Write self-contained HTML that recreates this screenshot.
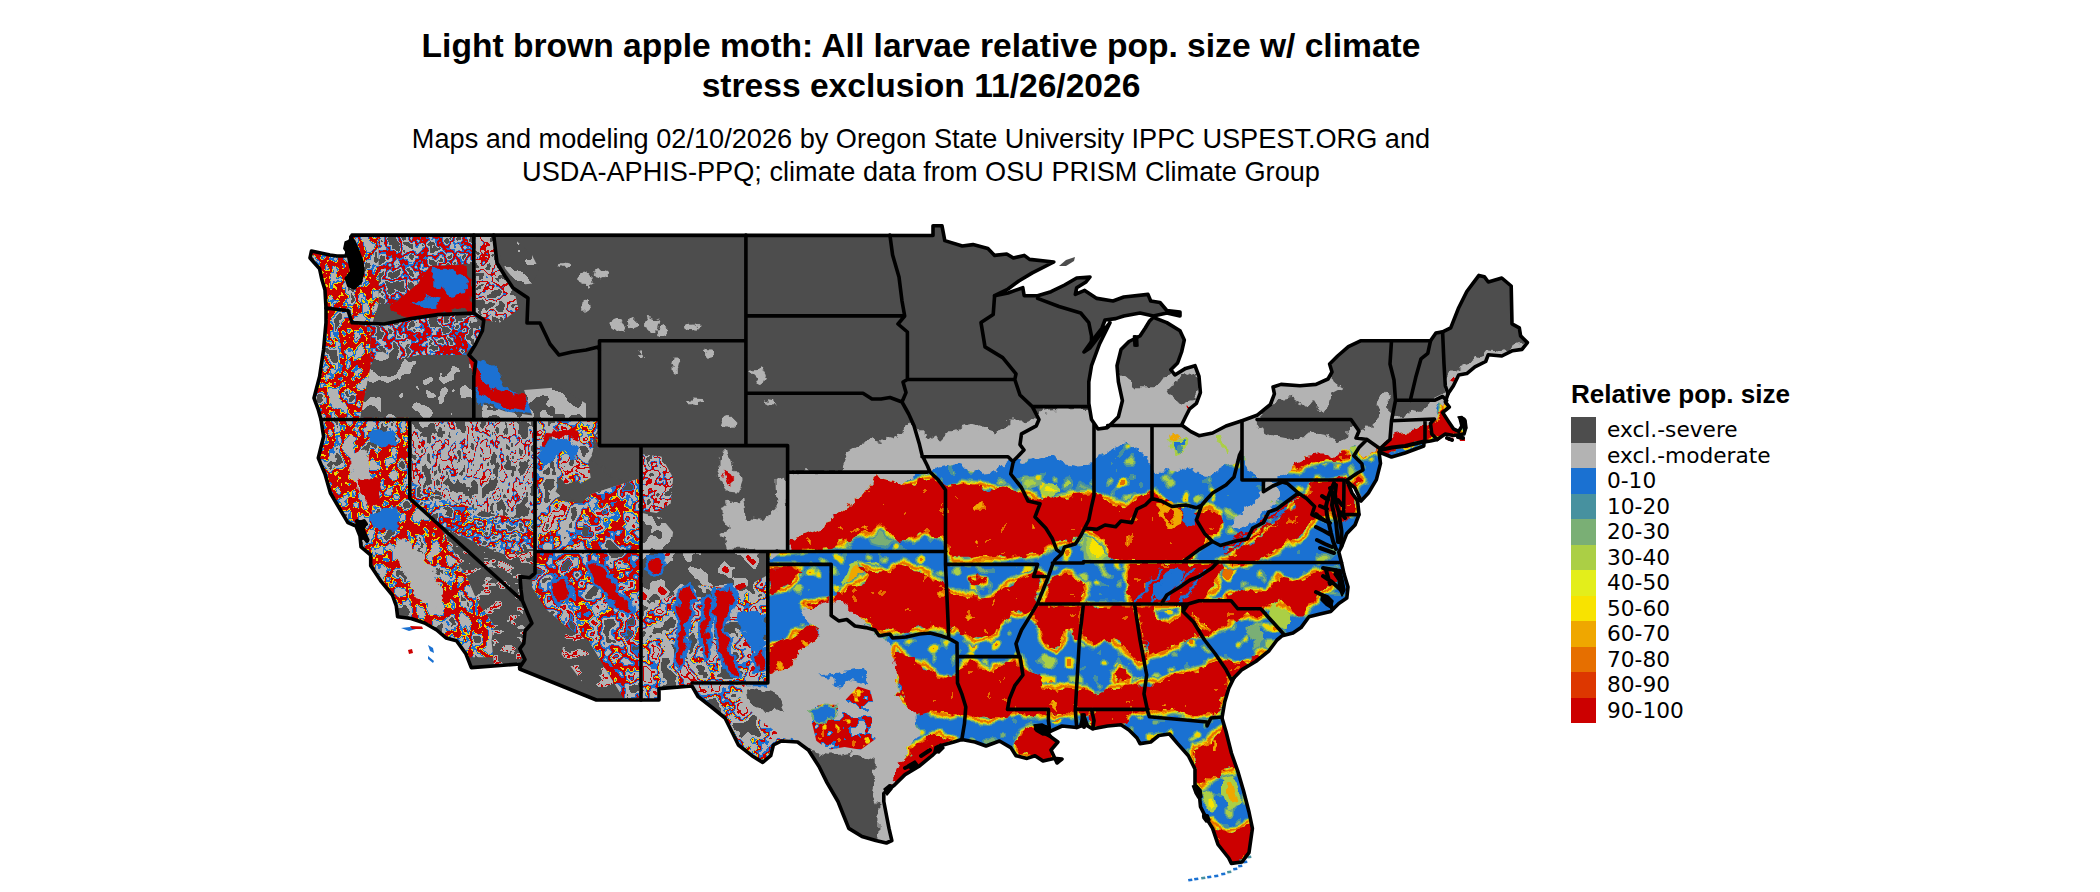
<!DOCTYPE html>
<html><head><meta charset="utf-8"><title>Light brown apple moth</title>
<style>
html,body{margin:0;padding:0;background:#fff;}
body{width:2100px;height:892px;position:relative;overflow:hidden;font-family:"Liberation Sans",sans-serif;color:#000;}
.t{position:absolute;left:0;width:1842px;text-align:center;white-space:nowrap;}
#title{top:25.5px;font-weight:bold;font-size:33.6px;line-height:40.2px;}
#sub{top:123px;font-size:27.15px;line-height:32.9px;}
#lt{position:absolute;left:1571px;top:379px;font-weight:bold;font-size:26.1px;line-height:30px;white-space:nowrap;}
.ll{position:absolute;left:1607px;font-family:"DejaVu Sans",sans-serif;font-size:21.7px;line-height:25.5px;white-space:nowrap;}
.sw{position:absolute;left:1571px;width:25px;height:25.7px;}
svg{position:absolute;left:0;top:0;}
</style></head><body>
<div class="t" id="title">Light brown apple moth: All larvae relative pop. size w/ climate<br>stress exclusion 11/26/2026</div>
<div class="t" id="sub">Maps and modeling 02/10/2026 by Oregon State University IPPC USPEST.ORG and<br>USDA-APHIS-PPQ; climate data from OSU PRISM Climate Group</div>
<div id="lt">Relative pop. size</div>
<div class="sw" style="top:417.00px;background:#4D4D4D"></div><div class="ll" style="top:417.00px">excl.-severe</div>
<div class="sw" style="top:442.50px;background:#B3B3B3"></div><div class="ll" style="top:442.50px">excl.-moderate</div>
<div class="sw" style="top:468.00px;background:#1A71D2"></div><div class="ll" style="top:468.00px">0-10</div>
<div class="sw" style="top:493.50px;background:#47919F"></div><div class="ll" style="top:493.50px">10-20</div>
<div class="sw" style="top:519.00px;background:#7AAF75"></div><div class="ll" style="top:519.00px">20-30</div>
<div class="sw" style="top:544.50px;background:#ABCF45"></div><div class="ll" style="top:544.50px">30-40</div>
<div class="sw" style="top:570.00px;background:#E3EE1B"></div><div class="ll" style="top:570.00px">40-50</div>
<div class="sw" style="top:595.50px;background:#F8E300"></div><div class="ll" style="top:595.50px">50-60</div>
<div class="sw" style="top:621.00px;background:#EFA700"></div><div class="ll" style="top:621.00px">60-70</div>
<div class="sw" style="top:646.50px;background:#E66F00"></div><div class="ll" style="top:646.50px">70-80</div>
<div class="sw" style="top:672.00px;background:#DD3700"></div><div class="ll" style="top:672.00px">80-90</div>
<div class="sw" style="top:697.50px;background:#CC0000"></div><div class="ll" style="top:697.50px">90-100</div>
<svg width="2100" height="892" viewBox="0 0 2100 892">
<defs><clipPath id="us"><path d="M933.0,235.5 L933.0,225.8 L942.0,225.8 L944.8,240.6 L962.3,246.0 L973.0,244.6 L987.9,248.6 L994.6,255.4 L1006.7,254.0 L1013.4,258.0 L1024.2,255.4 L1029.6,259.4 L1053.8,262.0 L1032.3,272.9 L1018.8,281.0 L1008.0,289.0 L994.6,295.7 L1008.0,293.0 L1022.8,287.7 L1024.2,295.7 L1037.6,295.7 L1051.0,291.7 L1064.6,285.0 L1076.7,278.0 L1090.0,277.0 L1086.0,282.0 L1076.7,287.7 L1075.3,294.4 L1084.7,290.4 L1096.8,298.4 L1113.0,301.0 L1123.8,297.0 L1148.0,294.4 L1150.7,301.0 L1160.0,302.5 L1166.8,310.5 L1180.0,312.0 L1180.0,316.0 L1166.8,313.0 L1153.4,316.0 L1140.0,313.0 L1123.8,316.0 L1115.7,318.6 L1105.0,320.0 L1102.0,328.0 L1091.5,341.5 L1084.0,352.0 L1090.0,348.0 L1100.0,335.0 L1110.0,322.6 L1099.5,344.0 L1091.5,365.7 L1088.8,381.9 L1088.8,403.4 L1091.5,419.5 L1098.0,429.0 L1107.6,427.6 L1118.4,416.8 L1122.4,400.7 L1118.4,381.9 L1117.0,365.7 L1121.0,349.6 L1129.0,341.5 L1140.0,336.0 L1145.3,328.0 L1149.3,321.3 L1153.4,317.3 L1166.8,322.6 L1180.0,330.7 L1184.3,340.0 L1181.6,352.0 L1177.6,363.0 L1170.8,369.7 L1174.9,375.0 L1185.6,368.4 L1195.0,365.7 L1199.0,376.5 L1200.4,392.6 L1196.4,403.4 L1189.7,408.8 L1185.6,416.8 L1181.6,425.0 L1191.0,431.6 L1199.0,435.7 L1212.6,433.0 L1226.0,426.0 L1242.0,420.7 L1257.0,415.3 L1270.4,404.5 L1274.4,393.8 L1273.0,387.0 L1281.0,384.4 L1300.0,385.7 L1316.0,384.4 L1328.0,379.0 L1332.0,372.0 L1329.6,364.0 L1337.6,356.0 L1348.4,346.7 L1360.5,340.8 L1430.5,340.8 L1435.9,333.0 L1442.6,331.9 L1450.7,327.8 L1458.7,307.7 L1466.8,291.5 L1478.9,275.4 L1484.3,276.7 L1488.3,282.0 L1501.8,278.0 L1511.2,286.0 L1512.0,323.8 L1519.3,327.8 L1520.6,335.9 L1527.4,342.6 L1522.0,349.4 L1512.6,350.7 L1501.8,356.0 L1488.3,354.7 L1485.7,361.5 L1474.9,366.9 L1466.8,373.6 L1458.7,375.0 L1453.4,385.7 L1448.0,393.8 L1445.3,401.8 L1449.3,407.0 L1442.6,412.6 L1448.0,420.7 L1453.4,428.8 L1458.7,431.4 L1462.0,426.0 L1460.0,418.0 L1464.0,419.3 L1465.5,428.8 L1464.0,434.0 L1453.4,435.5 L1445.3,434.0 L1437.2,439.5 L1430.5,440.9 L1424.0,442.0 L1423.8,446.0 L1405.0,453.0 L1391.5,457.0 L1379.0,452.0 L1380.5,463.4 L1376.4,479.6 L1368.4,493.0 L1361.0,501.0 L1355.0,488.0 L1347.0,481.0 L1352.0,493.0 L1357.6,501.0 L1359.0,514.6 L1355.0,525.0 L1346.8,533.4 L1341.5,546.9 L1338.8,552.0 L1341.5,562.5 L1344.0,573.8 L1348.0,587.0 L1346.8,598.0 L1338.8,603.4 L1330.7,611.5 L1320.0,614.0 L1309.0,616.8 L1301.0,627.6 L1293.0,633.0 L1282.3,635.7 L1277.0,640.0 L1269.0,650.8 L1255.7,661.5 L1242.0,669.6 L1234.0,677.7 L1228.7,688.4 L1224.7,702.0 L1222.0,718.0 L1226.0,731.5 L1231.4,753.0 L1238.0,771.9 L1243.5,790.7 L1249.0,812.0 L1252.4,828.4 L1249.0,852.6 L1242.0,862.0 L1231.4,863.4 L1228.7,858.0 L1218.0,844.5 L1212.6,828.4 L1205.9,817.6 L1200.5,806.8 L1199.0,790.7 L1195.0,785.0 L1195.0,769.0 L1188.4,755.7 L1177.6,743.6 L1169.5,734.0 L1158.8,735.5 L1150.7,742.0 L1140.0,743.6 L1137.0,738.0 L1129.0,730.0 L1121.0,724.8 L1107.6,726.0 L1092.8,728.8 L1087.5,726.0 L1083.4,715.0 L1080.7,726.0 L1076.7,727.5 L1062.0,726.0 L1049.8,731.5 L1044.0,731.0 L1051.0,737.0 L1057.9,742.0 L1051.0,750.0 L1057.0,763.0 L1062.0,759.0 L1053.8,758.4 L1043.0,761.0 L1035.0,755.7 L1027.0,758.4 L1016.0,755.7 L1010.8,747.6 L999.5,741.0 L986.0,746.0 L975.0,742.0 L961.8,739.6 L953.7,742.0 L943.0,745.0 L932.0,755.7 L918.7,766.5 L905.0,774.6 L894.5,785.0 L883.8,793.4 L883.8,801.5 L886.4,815.0 L889.0,828.4 L891.8,840.5 L886.4,843.0 L875.7,840.5 L862.0,836.5 L848.8,828.4 L843.4,815.0 L838.0,801.5 L827.0,782.6 L819.0,766.5 L808.4,750.0 L797.6,742.0 L781.5,741.0 L773.4,745.0 L770.7,755.7 L762.7,762.4 L751.9,755.7 L738.4,745.0 L733.0,734.0 L725.0,718.0 L711.5,707.0 L698.0,696.5 L692.0,686.0 L659.0,688.6 L659.0,700.0 L596.4,700.0 L519.7,669.0 L519.7,664.0 L471.3,667.6 L466.0,654.0 L456.5,640.7 L446.0,638.0 L436.7,630.0 L424.6,623.0 L411.0,618.5 L397.6,616.8 L396.3,606.0 L392.3,595.0 L381.5,581.9 L370.7,565.7 L370.7,555.0 L361.0,546.9 L360.0,536.0 L356.0,526.0 L347.9,522.6 L339.8,509.0 L330.4,493.0 L325.0,474.0 L318.3,458.0 L323.6,436.5 L321.0,419.5 L318.0,408.8 L314.0,398.0 L319.6,376.5 L323.6,349.5 L326.0,322.6 L326.0,308.0 L325.0,290.0 L322.0,280.0 L319.6,268.8 L310.0,258.0 L311.5,251.0 L330.0,255.0 L337.0,256.0 L346.0,256.0 L349.0,244.0 L352.0,235.0Z"/></clipPath>
<filter id="rag" filterUnits="userSpaceOnUse" x="290" y="210" width="1260" height="680"><feTurbulence type="fractalNoise" baseFrequency="0.085" numOctaves="3" seed="3"/><feDisplacementMap in="SourceGraphic" scale="13" xChannelSelector="R" yChannelSelector="G"/></filter>
<filter id="rag2" filterUnits="userSpaceOnUse" x="290" y="210" width="1260" height="680"><feTurbulence type="fractalNoise" baseFrequency="0.045" numOctaves="3" seed="8"/><feDisplacementMap in="SourceGraphic" scale="16" xChannelSelector="R" yChannelSelector="G"/></filter>
<filter id="mott" filterUnits="userSpaceOnUse" x="290" y="210" width="1260" height="680" color-interpolation-filters="sRGB"><feTurbulence type="fractalNoise" baseFrequency="0.055" numOctaves="2" seed="31"/><feColorMatrix type="matrix" values="1 0 0 0 0 1 0 0 0 0 1 0 0 0 0 1 0 0 0 0"/><feComponentTransfer><feFuncR type="discrete" tableValues="0.671 0.671 0.671 0.671 0.671 0.671 0.671 0.671 0.671 0.671 0.671 0.671 0.671 0.671 0.478 0.478 0.278 0.278 0.000 0.000 0.000 0.000 0.000 0.000 0.000 0.000 0.000 0.000 0.000 0.000 0.000 0.000 0.278 0.278 0.478 0.671 0.949 0.949 0.949 0.902 0.902 0.902 0.902 0.902 0.902 0.902 0.902 0.902 0.902 0.902"/><feFuncG type="discrete" tableValues="0.812 0.812 0.812 0.812 0.812 0.812 0.812 0.812 0.812 0.812 0.812 0.812 0.812 0.812 0.686 0.686 0.569 0.569 0.000 0.000 0.000 0.000 0.000 0.000 0.000 0.000 0.000 0.000 0.000 0.000 0.000 0.000 0.569 0.569 0.686 0.812 0.835 0.835 0.835 0.435 0.435 0.435 0.435 0.435 0.435 0.435 0.435 0.435 0.435 0.435"/><feFuncB type="discrete" tableValues="0.271 0.271 0.271 0.271 0.271 0.271 0.271 0.271 0.271 0.271 0.271 0.271 0.271 0.271 0.459 0.459 0.624 0.624 0.000 0.000 0.000 0.000 0.000 0.000 0.000 0.000 0.000 0.000 0.000 0.000 0.000 0.000 0.624 0.624 0.459 0.271 0.000 0.000 0.000 0.000 0.000 0.000 0.000 0.000 0.000 0.000 0.000 0.000 0.000 0.000"/><feFuncA type="discrete" tableValues="1.000 1.000 1.000 1.000 1.000 1.000 1.000 1.000 1.000 1.000 1.000 1.000 1.000 1.000 1.000 1.000 1.000 1.000 0.000 0.000 0.000 0.000 0.000 0.000 0.000 0.000 0.000 0.000 0.000 0.000 0.000 0.000 1.000 1.000 1.000 1.000 1.000 1.000 1.000 1.000 1.000 1.000 1.000 1.000 1.000 1.000 1.000 1.000 1.000 1.000"/></feComponentTransfer><feComposite in2="SourceGraphic" operator="in"/></filter>
<filter id="mott2" filterUnits="userSpaceOnUse" x="290" y="210" width="1260" height="680" color-interpolation-filters="sRGB"><feTurbulence type="fractalNoise" baseFrequency="0.08" numOctaves="2" seed="33"/><feColorMatrix type="matrix" values="1 0 0 0 0 1 0 0 0 0 1 0 0 0 0 1 0 0 0 0"/><feComponentTransfer><feFuncR type="discrete" tableValues="0.000 0.000 0.000 0.000 0.000 0.000 0.000 0.000 0.000 0.000 0.000 0.000 0.000 0.000 0.000 0.000 0.000 0.000 0.000 0.000 0.000 0.000 0.000 0.000 0.000 0.000 0.000 0.000 0.000 0.000 0.000 0.000 0.000 0.000 0.000 0.000 0.000 0.902 0.902 0.902 0.937 0.937 0.937 0.937 0.937 0.937 0.937 0.937 0.937 0.937"/><feFuncG type="discrete" tableValues="0.000 0.000 0.000 0.000 0.000 0.000 0.000 0.000 0.000 0.000 0.000 0.000 0.000 0.000 0.000 0.000 0.000 0.000 0.000 0.000 0.000 0.000 0.000 0.000 0.000 0.000 0.000 0.000 0.000 0.000 0.000 0.000 0.000 0.000 0.000 0.000 0.000 0.435 0.435 0.435 0.655 0.655 0.655 0.655 0.655 0.655 0.655 0.655 0.655 0.655"/><feFuncB type="discrete" tableValues="0.000 0.000 0.000 0.000 0.000 0.000 0.000 0.000 0.000 0.000 0.000 0.000 0.000 0.000 0.000 0.000 0.000 0.000 0.000 0.000 0.000 0.000 0.000 0.000 0.000 0.000 0.000 0.000 0.000 0.000 0.000 0.000 0.000 0.000 0.000 0.000 0.000 0.000 0.000 0.000 0.000 0.000 0.000 0.000 0.000 0.000 0.000 0.000 0.000 0.000"/><feFuncA type="discrete" tableValues="0.000 0.000 0.000 0.000 0.000 0.000 0.000 0.000 0.000 0.000 0.000 0.000 0.000 0.000 0.000 0.000 0.000 0.000 0.000 0.000 0.000 0.000 0.000 0.000 0.000 0.000 0.000 0.000 0.000 0.000 0.000 0.000 0.000 0.000 0.000 0.000 0.000 1.000 1.000 1.000 1.000 1.000 1.000 1.000 1.000 1.000 1.000 1.000 1.000 1.000"/></feComponentTransfer><feComposite in2="SourceGraphic" operator="in"/></filter>
<filter id="coast" filterUnits="userSpaceOnUse" x="290" y="210" width="1260" height="680" color-interpolation-filters="sRGB"><feTurbulence type="fractalNoise" baseFrequency="0.07 0.055" numOctaves="3" seed="2"/><feColorMatrix type="matrix" values="1 0 0 0 0 1 0 0 0 0 1 0 0 0 0 1 0 0 0 0"/><feComponentTransfer><feFuncR type="discrete" tableValues="0.702 0.702 0.702 0.702 0.702 0.702 0.702 0.702 0.702 0.702 0.702 0.702 0.702 0.702 0.702 0.702 0.702 0.702 0.102 0.102 0.949 0.800 0.800 0.800 0.800 0.800 0.800 0.800 0.949 0.102 0.102 0.702 0.702 0.702 0.702 0.302 0.302 0.302 0.302 0.302 0.302 0.302 0.302 0.302 0.302 0.302 0.302 0.302 0.302 0.302"/><feFuncG type="discrete" tableValues="0.702 0.702 0.702 0.702 0.702 0.702 0.702 0.702 0.702 0.702 0.702 0.702 0.702 0.702 0.702 0.702 0.702 0.702 0.443 0.443 0.835 0.000 0.000 0.000 0.000 0.000 0.000 0.000 0.835 0.443 0.443 0.702 0.702 0.702 0.702 0.302 0.302 0.302 0.302 0.302 0.302 0.302 0.302 0.302 0.302 0.302 0.302 0.302 0.302 0.302"/><feFuncB type="discrete" tableValues="0.702 0.702 0.702 0.702 0.702 0.702 0.702 0.702 0.702 0.702 0.702 0.702 0.702 0.702 0.702 0.702 0.702 0.702 0.824 0.824 0.000 0.000 0.000 0.000 0.000 0.000 0.000 0.000 0.000 0.824 0.824 0.702 0.702 0.702 0.702 0.302 0.302 0.302 0.302 0.302 0.302 0.302 0.302 0.302 0.302 0.302 0.302 0.302 0.302 0.302"/><feFuncA type="discrete" tableValues="1.000 1.000 1.000 1.000 1.000 1.000 1.000 1.000 1.000 1.000 1.000 1.000 1.000 1.000 1.000 1.000 1.000 1.000 1.000 1.000 1.000 1.000 1.000 1.000 1.000 1.000 1.000 1.000 1.000 1.000 1.000 1.000 1.000 1.000 1.000 1.000 1.000 1.000 1.000 1.000 1.000 1.000 1.000 1.000 1.000 1.000 1.000 1.000 1.000 1.000"/></feComponentTransfer><feComposite in2="SourceGraphic" operator="in"/></filter>
<filter id="casc" filterUnits="userSpaceOnUse" x="290" y="210" width="1260" height="680" color-interpolation-filters="sRGB"><feTurbulence type="fractalNoise" baseFrequency="0.075" numOctaves="3" seed="4"/><feColorMatrix type="matrix" values="1 0 0 0 0 1 0 0 0 0 1 0 0 0 0 1 0 0 0 0"/><feComponentTransfer><feFuncR type="discrete" tableValues="0.302 0.302 0.302 0.302 0.302 0.302 0.302 0.302 0.302 0.302 0.302 0.302 0.302 0.302 0.302 0.302 0.302 0.302 0.302 0.702 0.702 0.702 0.102 0.102 0.800 0.800 0.800 0.800 0.800 0.102 0.102 0.702 0.702 0.702 0.702 0.302 0.302 0.302 0.302 0.302 0.302 0.302 0.302 0.302 0.302 0.302 0.302 0.302 0.302 0.302"/><feFuncG type="discrete" tableValues="0.302 0.302 0.302 0.302 0.302 0.302 0.302 0.302 0.302 0.302 0.302 0.302 0.302 0.302 0.302 0.302 0.302 0.302 0.302 0.702 0.702 0.702 0.443 0.443 0.000 0.000 0.000 0.000 0.000 0.443 0.443 0.702 0.702 0.702 0.702 0.302 0.302 0.302 0.302 0.302 0.302 0.302 0.302 0.302 0.302 0.302 0.302 0.302 0.302 0.302"/><feFuncB type="discrete" tableValues="0.302 0.302 0.302 0.302 0.302 0.302 0.302 0.302 0.302 0.302 0.302 0.302 0.302 0.302 0.302 0.302 0.302 0.302 0.302 0.702 0.702 0.702 0.824 0.824 0.000 0.000 0.000 0.000 0.000 0.824 0.824 0.702 0.702 0.702 0.702 0.302 0.302 0.302 0.302 0.302 0.302 0.302 0.302 0.302 0.302 0.302 0.302 0.302 0.302 0.302"/><feFuncA type="discrete" tableValues="1.000 1.000 1.000 1.000 1.000 1.000 1.000 1.000 1.000 1.000 1.000 1.000 1.000 1.000 1.000 1.000 1.000 1.000 1.000 1.000 1.000 1.000 1.000 1.000 1.000 1.000 1.000 1.000 1.000 1.000 1.000 1.000 1.000 1.000 1.000 1.000 1.000 1.000 1.000 1.000 1.000 1.000 1.000 1.000 1.000 1.000 1.000 1.000 1.000 1.000"/></feComponentTransfer><feComposite in2="SourceGraphic" operator="in"/></filter>
<filter id="basin" filterUnits="userSpaceOnUse" x="290" y="210" width="1260" height="680" color-interpolation-filters="sRGB"><feTurbulence type="fractalNoise" baseFrequency="0.09 0.05" numOctaves="3" seed="5"/><feColorMatrix type="matrix" values="1 0 0 0 0 1 0 0 0 0 1 0 0 0 0 1 0 0 0 0"/><feComponentTransfer><feFuncR type="discrete" tableValues="0.302 0.302 0.302 0.302 0.302 0.302 0.302 0.302 0.302 0.302 0.302 0.302 0.302 0.302 0.302 0.302 0.302 0.302 0.302 0.302 0.702 0.702 0.702 0.702 0.702 0.702 0.102 0.800 0.800 0.702 0.702 0.702 0.702 0.702 0.702 0.702 0.302 0.302 0.302 0.302 0.302 0.302 0.302 0.302 0.302 0.302 0.302 0.302 0.302 0.302"/><feFuncG type="discrete" tableValues="0.302 0.302 0.302 0.302 0.302 0.302 0.302 0.302 0.302 0.302 0.302 0.302 0.302 0.302 0.302 0.302 0.302 0.302 0.302 0.302 0.702 0.702 0.702 0.702 0.702 0.702 0.443 0.000 0.000 0.702 0.702 0.702 0.702 0.702 0.702 0.702 0.302 0.302 0.302 0.302 0.302 0.302 0.302 0.302 0.302 0.302 0.302 0.302 0.302 0.302"/><feFuncB type="discrete" tableValues="0.302 0.302 0.302 0.302 0.302 0.302 0.302 0.302 0.302 0.302 0.302 0.302 0.302 0.302 0.302 0.302 0.302 0.302 0.302 0.302 0.702 0.702 0.702 0.702 0.702 0.702 0.824 0.000 0.000 0.702 0.702 0.702 0.702 0.702 0.702 0.702 0.302 0.302 0.302 0.302 0.302 0.302 0.302 0.302 0.302 0.302 0.302 0.302 0.302 0.302"/><feFuncA type="discrete" tableValues="1.000 1.000 1.000 1.000 1.000 1.000 1.000 1.000 1.000 1.000 1.000 1.000 1.000 1.000 1.000 1.000 1.000 1.000 1.000 1.000 1.000 1.000 1.000 1.000 1.000 1.000 1.000 1.000 1.000 1.000 1.000 1.000 1.000 1.000 1.000 1.000 1.000 1.000 1.000 1.000 1.000 1.000 1.000 1.000 1.000 1.000 1.000 1.000 1.000 1.000"/></feComponentTransfer><feComposite in2="SourceGraphic" operator="in"/></filter>
<filter id="dglg" filterUnits="userSpaceOnUse" x="290" y="210" width="1260" height="680" color-interpolation-filters="sRGB"><feTurbulence type="fractalNoise" baseFrequency="0.06" numOctaves="2" seed="6"/><feColorMatrix type="matrix" values="1 0 0 0 0 1 0 0 0 0 1 0 0 0 0 1 0 0 0 0"/><feComponentTransfer><feFuncR type="discrete" tableValues="0.302 0.302 0.302 0.302 0.302 0.302 0.302 0.302 0.302 0.302 0.302 0.302 0.302 0.302 0.302 0.302 0.302 0.302 0.302 0.302 0.302 0.302 0.302 0.302 0.302 0.302 0.302 0.302 0.302 0.702 0.702 0.702 0.702 0.702 0.702 0.702 0.702 0.702 0.702 0.702 0.702 0.702 0.702 0.702 0.702 0.702 0.702 0.702 0.702 0.702"/><feFuncG type="discrete" tableValues="0.302 0.302 0.302 0.302 0.302 0.302 0.302 0.302 0.302 0.302 0.302 0.302 0.302 0.302 0.302 0.302 0.302 0.302 0.302 0.302 0.302 0.302 0.302 0.302 0.302 0.302 0.302 0.302 0.302 0.702 0.702 0.702 0.702 0.702 0.702 0.702 0.702 0.702 0.702 0.702 0.702 0.702 0.702 0.702 0.702 0.702 0.702 0.702 0.702 0.702"/><feFuncB type="discrete" tableValues="0.302 0.302 0.302 0.302 0.302 0.302 0.302 0.302 0.302 0.302 0.302 0.302 0.302 0.302 0.302 0.302 0.302 0.302 0.302 0.302 0.302 0.302 0.302 0.302 0.302 0.302 0.302 0.302 0.302 0.702 0.702 0.702 0.702 0.702 0.702 0.702 0.702 0.702 0.702 0.702 0.702 0.702 0.702 0.702 0.702 0.702 0.702 0.702 0.702 0.702"/><feFuncA type="discrete" tableValues="1.000 1.000 1.000 1.000 1.000 1.000 1.000 1.000 1.000 1.000 1.000 1.000 1.000 1.000 1.000 1.000 1.000 1.000 1.000 1.000 1.000 1.000 1.000 1.000 1.000 1.000 1.000 1.000 1.000 1.000 1.000 1.000 1.000 1.000 1.000 1.000 1.000 1.000 1.000 1.000 1.000 1.000 1.000 1.000 1.000 1.000 1.000 1.000 1.000 1.000"/></feComponentTransfer><feComposite in2="SourceGraphic" operator="in"/></filter>
<filter id="lgdg" filterUnits="userSpaceOnUse" x="290" y="210" width="1260" height="680" color-interpolation-filters="sRGB"><feTurbulence type="fractalNoise" baseFrequency="0.06" numOctaves="2" seed="8"/><feColorMatrix type="matrix" values="1 0 0 0 0 1 0 0 0 0 1 0 0 0 0 1 0 0 0 0"/><feComponentTransfer><feFuncR type="discrete" tableValues="0.702 0.702 0.702 0.702 0.702 0.702 0.702 0.702 0.702 0.702 0.702 0.702 0.702 0.702 0.702 0.702 0.702 0.702 0.702 0.702 0.702 0.702 0.702 0.702 0.702 0.702 0.702 0.302 0.302 0.302 0.302 0.302 0.302 0.302 0.302 0.302 0.302 0.302 0.302 0.302 0.302 0.302 0.302 0.302 0.302 0.302 0.302 0.302 0.302 0.302"/><feFuncG type="discrete" tableValues="0.702 0.702 0.702 0.702 0.702 0.702 0.702 0.702 0.702 0.702 0.702 0.702 0.702 0.702 0.702 0.702 0.702 0.702 0.702 0.702 0.702 0.702 0.702 0.702 0.702 0.702 0.702 0.302 0.302 0.302 0.302 0.302 0.302 0.302 0.302 0.302 0.302 0.302 0.302 0.302 0.302 0.302 0.302 0.302 0.302 0.302 0.302 0.302 0.302 0.302"/><feFuncB type="discrete" tableValues="0.702 0.702 0.702 0.702 0.702 0.702 0.702 0.702 0.702 0.702 0.702 0.702 0.702 0.702 0.702 0.702 0.702 0.702 0.702 0.702 0.702 0.702 0.702 0.702 0.702 0.702 0.702 0.302 0.302 0.302 0.302 0.302 0.302 0.302 0.302 0.302 0.302 0.302 0.302 0.302 0.302 0.302 0.302 0.302 0.302 0.302 0.302 0.302 0.302 0.302"/><feFuncA type="discrete" tableValues="1.000 1.000 1.000 1.000 1.000 1.000 1.000 1.000 1.000 1.000 1.000 1.000 1.000 1.000 1.000 1.000 1.000 1.000 1.000 1.000 1.000 1.000 1.000 1.000 1.000 1.000 1.000 1.000 1.000 1.000 1.000 1.000 1.000 1.000 1.000 1.000 1.000 1.000 1.000 1.000 1.000 1.000 1.000 1.000 1.000 1.000 1.000 1.000 1.000 1.000"/></feComponentTransfer><feComposite in2="SourceGraphic" operator="in"/></filter>
<filter id="swirl" filterUnits="userSpaceOnUse" x="290" y="210" width="1260" height="680" color-interpolation-filters="sRGB"><feTurbulence type="fractalNoise" baseFrequency="0.05" numOctaves="3" seed="9"/><feColorMatrix type="matrix" values="1 0 0 0 0 1 0 0 0 0 1 0 0 0 0 1 0 0 0 0"/><feComponentTransfer><feFuncR type="discrete" tableValues="0.302 0.302 0.302 0.302 0.302 0.302 0.302 0.302 0.302 0.302 0.302 0.302 0.302 0.302 0.302 0.302 0.702 0.702 0.702 0.702 0.702 0.702 0.102 0.102 0.800 0.800 0.949 0.102 0.702 0.702 0.702 0.702 0.800 0.800 0.702 0.702 0.702 0.702 0.302 0.302 0.302 0.302 0.302 0.302 0.302 0.302 0.302 0.302 0.302 0.302"/><feFuncG type="discrete" tableValues="0.302 0.302 0.302 0.302 0.302 0.302 0.302 0.302 0.302 0.302 0.302 0.302 0.302 0.302 0.302 0.302 0.702 0.702 0.702 0.702 0.702 0.702 0.443 0.443 0.000 0.000 0.835 0.443 0.702 0.702 0.702 0.702 0.000 0.000 0.702 0.702 0.702 0.702 0.302 0.302 0.302 0.302 0.302 0.302 0.302 0.302 0.302 0.302 0.302 0.302"/><feFuncB type="discrete" tableValues="0.302 0.302 0.302 0.302 0.302 0.302 0.302 0.302 0.302 0.302 0.302 0.302 0.302 0.302 0.302 0.302 0.702 0.702 0.702 0.702 0.702 0.702 0.824 0.824 0.000 0.000 0.000 0.824 0.702 0.702 0.702 0.702 0.000 0.000 0.702 0.702 0.702 0.702 0.302 0.302 0.302 0.302 0.302 0.302 0.302 0.302 0.302 0.302 0.302 0.302"/><feFuncA type="discrete" tableValues="1.000 1.000 1.000 1.000 1.000 1.000 1.000 1.000 1.000 1.000 1.000 1.000 1.000 1.000 1.000 1.000 1.000 1.000 1.000 1.000 1.000 1.000 1.000 1.000 1.000 1.000 1.000 1.000 1.000 1.000 1.000 1.000 1.000 1.000 1.000 1.000 1.000 1.000 1.000 1.000 1.000 1.000 1.000 1.000 1.000 1.000 1.000 1.000 1.000 1.000"/></feComponentTransfer><feComposite in2="SourceGraphic" operator="in"/></filter>
<filter id="redblue" filterUnits="userSpaceOnUse" x="290" y="210" width="1260" height="680" color-interpolation-filters="sRGB"><feTurbulence type="fractalNoise" baseFrequency="0.075" numOctaves="3" seed="11"/><feColorMatrix type="matrix" values="1 0 0 0 0 1 0 0 0 0 1 0 0 0 0 1 0 0 0 0"/><feComponentTransfer><feFuncR type="discrete" tableValues="0.302 0.302 0.302 0.302 0.302 0.302 0.302 0.302 0.302 0.302 0.302 0.302 0.302 0.302 0.302 0.302 0.702 0.702 0.702 0.702 0.102 0.102 0.102 0.949 0.800 0.800 0.800 0.800 0.102 0.102 0.102 0.702 0.702 0.702 0.702 0.302 0.302 0.302 0.302 0.302 0.302 0.302 0.302 0.302 0.302 0.302 0.302 0.302 0.302 0.302"/><feFuncG type="discrete" tableValues="0.302 0.302 0.302 0.302 0.302 0.302 0.302 0.302 0.302 0.302 0.302 0.302 0.302 0.302 0.302 0.302 0.702 0.702 0.702 0.702 0.443 0.443 0.443 0.835 0.000 0.000 0.000 0.000 0.443 0.443 0.443 0.702 0.702 0.702 0.702 0.302 0.302 0.302 0.302 0.302 0.302 0.302 0.302 0.302 0.302 0.302 0.302 0.302 0.302 0.302"/><feFuncB type="discrete" tableValues="0.302 0.302 0.302 0.302 0.302 0.302 0.302 0.302 0.302 0.302 0.302 0.302 0.302 0.302 0.302 0.302 0.702 0.702 0.702 0.702 0.824 0.824 0.824 0.000 0.000 0.000 0.000 0.000 0.824 0.824 0.824 0.702 0.702 0.702 0.702 0.302 0.302 0.302 0.302 0.302 0.302 0.302 0.302 0.302 0.302 0.302 0.302 0.302 0.302 0.302"/><feFuncA type="discrete" tableValues="1.000 1.000 1.000 1.000 1.000 1.000 1.000 1.000 1.000 1.000 1.000 1.000 1.000 1.000 1.000 1.000 1.000 1.000 1.000 1.000 1.000 1.000 1.000 1.000 1.000 1.000 1.000 1.000 1.000 1.000 1.000 1.000 1.000 1.000 1.000 1.000 1.000 1.000 1.000 1.000 1.000 1.000 1.000 1.000 1.000 1.000 1.000 1.000 1.000 1.000"/></feComponentTransfer><feComposite in2="SourceGraphic" operator="in"/></filter>
<filter id="lgred" filterUnits="userSpaceOnUse" x="290" y="210" width="1260" height="680" color-interpolation-filters="sRGB"><feTurbulence type="fractalNoise" baseFrequency="0.07" numOctaves="3" seed="12"/><feColorMatrix type="matrix" values="1 0 0 0 0 1 0 0 0 0 1 0 0 0 0 1 0 0 0 0"/><feComponentTransfer><feFuncR type="discrete" tableValues="0.302 0.302 0.302 0.302 0.302 0.302 0.302 0.302 0.302 0.302 0.302 0.302 0.302 0.302 0.302 0.302 0.302 0.302 0.702 0.702 0.702 0.702 0.702 0.702 0.702 0.800 0.800 0.800 0.102 0.702 0.702 0.702 0.702 0.702 0.302 0.302 0.302 0.302 0.302 0.302 0.302 0.302 0.302 0.302 0.302 0.302 0.302 0.302 0.302 0.302"/><feFuncG type="discrete" tableValues="0.302 0.302 0.302 0.302 0.302 0.302 0.302 0.302 0.302 0.302 0.302 0.302 0.302 0.302 0.302 0.302 0.302 0.302 0.702 0.702 0.702 0.702 0.702 0.702 0.702 0.000 0.000 0.000 0.443 0.702 0.702 0.702 0.702 0.702 0.302 0.302 0.302 0.302 0.302 0.302 0.302 0.302 0.302 0.302 0.302 0.302 0.302 0.302 0.302 0.302"/><feFuncB type="discrete" tableValues="0.302 0.302 0.302 0.302 0.302 0.302 0.302 0.302 0.302 0.302 0.302 0.302 0.302 0.302 0.302 0.302 0.302 0.302 0.702 0.702 0.702 0.702 0.702 0.702 0.702 0.000 0.000 0.000 0.824 0.702 0.702 0.702 0.702 0.702 0.302 0.302 0.302 0.302 0.302 0.302 0.302 0.302 0.302 0.302 0.302 0.302 0.302 0.302 0.302 0.302"/><feFuncA type="discrete" tableValues="1.000 1.000 1.000 1.000 1.000 1.000 1.000 1.000 1.000 1.000 1.000 1.000 1.000 1.000 1.000 1.000 1.000 1.000 1.000 1.000 1.000 1.000 1.000 1.000 1.000 1.000 1.000 1.000 1.000 1.000 1.000 1.000 1.000 1.000 1.000 1.000 1.000 1.000 1.000 1.000 1.000 1.000 1.000 1.000 1.000 1.000 1.000 1.000 1.000 1.000"/></feComponentTransfer><feComposite in2="SourceGraphic" operator="in"/></filter>
<filter id="dgs" filterUnits="userSpaceOnUse" x="290" y="210" width="1260" height="680" color-interpolation-filters="sRGB"><feTurbulence type="fractalNoise" baseFrequency="0.06 0.1" numOctaves="3" seed="14"/><feColorMatrix type="matrix" values="1 0 0 0 0 1 0 0 0 0 1 0 0 0 0 1 0 0 0 0"/><feComponentTransfer><feFuncR type="discrete" tableValues="0.302 0.302 0.302 0.302 0.302 0.302 0.302 0.302 0.302 0.302 0.302 0.302 0.302 0.302 0.302 0.302 0.302 0.302 0.302 0.302 0.302 0.302 0.302 0.302 0.302 0.302 0.302 0.302 0.302 0.702 0.702 0.702 0.800 0.800 0.702 0.702 0.702 0.702 0.702 0.702 0.702 0.702 0.702 0.702 0.702 0.702 0.702 0.702 0.702 0.702"/><feFuncG type="discrete" tableValues="0.302 0.302 0.302 0.302 0.302 0.302 0.302 0.302 0.302 0.302 0.302 0.302 0.302 0.302 0.302 0.302 0.302 0.302 0.302 0.302 0.302 0.302 0.302 0.302 0.302 0.302 0.302 0.302 0.302 0.702 0.702 0.702 0.000 0.000 0.702 0.702 0.702 0.702 0.702 0.702 0.702 0.702 0.702 0.702 0.702 0.702 0.702 0.702 0.702 0.702"/><feFuncB type="discrete" tableValues="0.302 0.302 0.302 0.302 0.302 0.302 0.302 0.302 0.302 0.302 0.302 0.302 0.302 0.302 0.302 0.302 0.302 0.302 0.302 0.302 0.302 0.302 0.302 0.302 0.302 0.302 0.302 0.302 0.302 0.702 0.702 0.702 0.000 0.000 0.702 0.702 0.702 0.702 0.702 0.702 0.702 0.702 0.702 0.702 0.702 0.702 0.702 0.702 0.702 0.702"/><feFuncA type="discrete" tableValues="1.000 1.000 1.000 1.000 1.000 1.000 1.000 1.000 1.000 1.000 1.000 1.000 1.000 1.000 1.000 1.000 1.000 1.000 1.000 1.000 1.000 1.000 1.000 1.000 1.000 1.000 1.000 1.000 1.000 1.000 1.000 1.000 1.000 1.000 1.000 1.000 1.000 1.000 1.000 1.000 1.000 1.000 1.000 1.000 1.000 1.000 1.000 1.000 1.000 1.000"/></feComponentTransfer><feComposite in2="SourceGraphic" operator="in"/></filter>
<filter id="swirl2" filterUnits="userSpaceOnUse" x="290" y="210" width="1260" height="680" color-interpolation-filters="sRGB"><feTurbulence type="fractalNoise" baseFrequency="0.05" numOctaves="3" seed="19"/><feColorMatrix type="matrix" values="1 0 0 0 0 1 0 0 0 0 1 0 0 0 0 1 0 0 0 0"/><feComponentTransfer><feFuncR type="discrete" tableValues="0.302 0.302 0.302 0.302 0.302 0.302 0.302 0.302 0.302 0.302 0.302 0.302 0.302 0.302 0.302 0.302 0.702 0.702 0.702 0.702 0.102 0.102 0.800 0.800 0.800 0.800 0.949 0.102 0.102 0.702 0.702 0.702 0.800 0.800 0.102 0.102 0.302 0.302 0.302 0.302 0.302 0.302 0.302 0.302 0.302 0.302 0.302 0.302 0.302 0.302"/><feFuncG type="discrete" tableValues="0.302 0.302 0.302 0.302 0.302 0.302 0.302 0.302 0.302 0.302 0.302 0.302 0.302 0.302 0.302 0.302 0.702 0.702 0.702 0.702 0.443 0.443 0.000 0.000 0.000 0.000 0.835 0.443 0.443 0.702 0.702 0.702 0.000 0.000 0.443 0.443 0.302 0.302 0.302 0.302 0.302 0.302 0.302 0.302 0.302 0.302 0.302 0.302 0.302 0.302"/><feFuncB type="discrete" tableValues="0.302 0.302 0.302 0.302 0.302 0.302 0.302 0.302 0.302 0.302 0.302 0.302 0.302 0.302 0.302 0.302 0.702 0.702 0.702 0.702 0.824 0.824 0.000 0.000 0.000 0.000 0.000 0.824 0.824 0.702 0.702 0.702 0.000 0.000 0.824 0.824 0.302 0.302 0.302 0.302 0.302 0.302 0.302 0.302 0.302 0.302 0.302 0.302 0.302 0.302"/><feFuncA type="discrete" tableValues="1.000 1.000 1.000 1.000 1.000 1.000 1.000 1.000 1.000 1.000 1.000 1.000 1.000 1.000 1.000 1.000 1.000 1.000 1.000 1.000 1.000 1.000 1.000 1.000 1.000 1.000 1.000 1.000 1.000 1.000 1.000 1.000 1.000 1.000 1.000 1.000 1.000 1.000 1.000 1.000 1.000 1.000 1.000 1.000 1.000 1.000 1.000 1.000 1.000 1.000"/></feComponentTransfer><feComposite in2="SourceGraphic" operator="in"/></filter>
<filter id="lgdg2" filterUnits="userSpaceOnUse" x="290" y="210" width="1260" height="680" color-interpolation-filters="sRGB"><feTurbulence type="fractalNoise" baseFrequency="0.08" numOctaves="2" seed="21"/><feColorMatrix type="matrix" values="1 0 0 0 0 1 0 0 0 0 1 0 0 0 0 1 0 0 0 0"/><feComponentTransfer><feFuncR type="discrete" tableValues="0.302 0.302 0.302 0.302 0.302 0.302 0.302 0.302 0.302 0.302 0.302 0.302 0.302 0.302 0.302 0.302 0.302 0.302 0.302 0.302 0.302 0.302 0.302 0.302 0.702 0.702 0.702 0.702 0.702 0.702 0.702 0.702 0.702 0.702 0.702 0.702 0.702 0.702 0.702 0.702 0.702 0.702 0.702 0.702 0.702 0.702 0.702 0.702 0.702 0.702"/><feFuncG type="discrete" tableValues="0.302 0.302 0.302 0.302 0.302 0.302 0.302 0.302 0.302 0.302 0.302 0.302 0.302 0.302 0.302 0.302 0.302 0.302 0.302 0.302 0.302 0.302 0.302 0.302 0.702 0.702 0.702 0.702 0.702 0.702 0.702 0.702 0.702 0.702 0.702 0.702 0.702 0.702 0.702 0.702 0.702 0.702 0.702 0.702 0.702 0.702 0.702 0.702 0.702 0.702"/><feFuncB type="discrete" tableValues="0.302 0.302 0.302 0.302 0.302 0.302 0.302 0.302 0.302 0.302 0.302 0.302 0.302 0.302 0.302 0.302 0.302 0.302 0.302 0.302 0.302 0.302 0.302 0.302 0.702 0.702 0.702 0.702 0.702 0.702 0.702 0.702 0.702 0.702 0.702 0.702 0.702 0.702 0.702 0.702 0.702 0.702 0.702 0.702 0.702 0.702 0.702 0.702 0.702 0.702"/><feFuncA type="discrete" tableValues="1.000 1.000 1.000 1.000 1.000 1.000 1.000 1.000 1.000 1.000 1.000 1.000 1.000 1.000 1.000 1.000 1.000 1.000 1.000 1.000 1.000 1.000 1.000 1.000 1.000 1.000 1.000 1.000 1.000 1.000 1.000 1.000 1.000 1.000 1.000 1.000 1.000 1.000 1.000 1.000 1.000 1.000 1.000 1.000 1.000 1.000 1.000 1.000 1.000 1.000"/></feComponentTransfer><feComposite in2="SourceGraphic" operator="in"/></filter>
<filter id="nm" filterUnits="userSpaceOnUse" x="290" y="210" width="1260" height="680" color-interpolation-filters="sRGB"><feTurbulence type="fractalNoise" baseFrequency="0.05" numOctaves="3" seed="23"/><feColorMatrix type="matrix" values="1 0 0 0 0 1 0 0 0 0 1 0 0 0 0 1 0 0 0 0"/><feComponentTransfer><feFuncR type="discrete" tableValues="0.302 0.302 0.302 0.302 0.302 0.302 0.302 0.302 0.302 0.302 0.302 0.302 0.302 0.302 0.302 0.302 0.302 0.302 0.702 0.702 0.702 0.702 0.702 0.102 0.949 0.800 0.800 0.102 0.102 0.702 0.702 0.702 0.702 0.800 0.800 0.702 0.702 0.702 0.702 0.702 0.702 0.702 0.702 0.702 0.702 0.702 0.702 0.702 0.702 0.702"/><feFuncG type="discrete" tableValues="0.302 0.302 0.302 0.302 0.302 0.302 0.302 0.302 0.302 0.302 0.302 0.302 0.302 0.302 0.302 0.302 0.302 0.302 0.702 0.702 0.702 0.702 0.702 0.443 0.835 0.000 0.000 0.443 0.443 0.702 0.702 0.702 0.702 0.000 0.000 0.702 0.702 0.702 0.702 0.702 0.702 0.702 0.702 0.702 0.702 0.702 0.702 0.702 0.702 0.702"/><feFuncB type="discrete" tableValues="0.302 0.302 0.302 0.302 0.302 0.302 0.302 0.302 0.302 0.302 0.302 0.302 0.302 0.302 0.302 0.302 0.302 0.302 0.702 0.702 0.702 0.702 0.702 0.824 0.000 0.000 0.000 0.824 0.824 0.702 0.702 0.702 0.702 0.000 0.000 0.702 0.702 0.702 0.702 0.702 0.702 0.702 0.702 0.702 0.702 0.702 0.702 0.702 0.702 0.702"/><feFuncA type="discrete" tableValues="1.000 1.000 1.000 1.000 1.000 1.000 1.000 1.000 1.000 1.000 1.000 1.000 1.000 1.000 1.000 1.000 1.000 1.000 1.000 1.000 1.000 1.000 1.000 1.000 1.000 1.000 1.000 1.000 1.000 1.000 1.000 1.000 1.000 1.000 1.000 1.000 1.000 1.000 1.000 1.000 1.000 1.000 1.000 1.000 1.000 1.000 1.000 1.000 1.000 1.000"/></feComponentTransfer><feComposite in2="SourceGraphic" operator="in"/></filter>
<filter id="dglg3" filterUnits="userSpaceOnUse" x="290" y="210" width="1260" height="680" color-interpolation-filters="sRGB"><feTurbulence type="fractalNoise" baseFrequency="0.06" numOctaves="2" seed="25"/><feColorMatrix type="matrix" values="1 0 0 0 0 1 0 0 0 0 1 0 0 0 0 1 0 0 0 0"/><feComponentTransfer><feFuncR type="discrete" tableValues="0.302 0.302 0.302 0.302 0.302 0.302 0.302 0.302 0.302 0.302 0.302 0.302 0.302 0.302 0.302 0.302 0.302 0.302 0.302 0.302 0.302 0.302 0.302 0.302 0.302 0.302 0.302 0.702 0.702 0.702 0.702 0.702 0.702 0.702 0.800 0.800 0.800 0.800 0.800 0.800 0.800 0.800 0.800 0.800 0.800 0.800 0.800 0.800 0.800 0.800"/><feFuncG type="discrete" tableValues="0.302 0.302 0.302 0.302 0.302 0.302 0.302 0.302 0.302 0.302 0.302 0.302 0.302 0.302 0.302 0.302 0.302 0.302 0.302 0.302 0.302 0.302 0.302 0.302 0.302 0.302 0.302 0.702 0.702 0.702 0.702 0.702 0.702 0.702 0.000 0.000 0.000 0.000 0.000 0.000 0.000 0.000 0.000 0.000 0.000 0.000 0.000 0.000 0.000 0.000"/><feFuncB type="discrete" tableValues="0.302 0.302 0.302 0.302 0.302 0.302 0.302 0.302 0.302 0.302 0.302 0.302 0.302 0.302 0.302 0.302 0.302 0.302 0.302 0.302 0.302 0.302 0.302 0.302 0.302 0.302 0.302 0.702 0.702 0.702 0.702 0.702 0.702 0.702 0.000 0.000 0.000 0.000 0.000 0.000 0.000 0.000 0.000 0.000 0.000 0.000 0.000 0.000 0.000 0.000"/><feFuncA type="discrete" tableValues="1.000 1.000 1.000 1.000 1.000 1.000 1.000 1.000 1.000 1.000 1.000 1.000 1.000 1.000 1.000 1.000 1.000 1.000 1.000 1.000 1.000 1.000 1.000 1.000 1.000 1.000 1.000 1.000 1.000 1.000 1.000 1.000 1.000 1.000 1.000 1.000 1.000 1.000 1.000 1.000 1.000 1.000 1.000 1.000 1.000 1.000 1.000 1.000 1.000 1.000"/></feComponentTransfer><feComposite in2="SourceGraphic" operator="in"/></filter>
<filter id="hill" filterUnits="userSpaceOnUse" x="290" y="210" width="1260" height="680" color-interpolation-filters="sRGB"><feTurbulence type="fractalNoise" baseFrequency="0.06" numOctaves="3" seed="78"/><feColorMatrix type="matrix" values="1 0 0 0 0 1 0 0 0 0 1 0 0 0 0 1 0 0 0 0"/><feComponentTransfer><feFuncR type="discrete" tableValues="0.702 0.702 0.702 0.702 0.702 0.702 0.702 0.702 0.702 0.702 0.702 0.702 0.702 0.702 0.702 0.702 0.702 0.702 0.702 0.702 0.702 0.702 0.702 0.102 0.102 0.800 0.800 0.800 0.800 0.800 0.800 0.800 0.902 0.902 0.949 0.949 0.949 0.949 0.949 0.949 0.949 0.949 0.949 0.949 0.949 0.949 0.949 0.949 0.949 0.949"/><feFuncG type="discrete" tableValues="0.702 0.702 0.702 0.702 0.702 0.702 0.702 0.702 0.702 0.702 0.702 0.702 0.702 0.702 0.702 0.702 0.702 0.702 0.702 0.702 0.702 0.702 0.702 0.443 0.443 0.000 0.000 0.000 0.000 0.000 0.000 0.000 0.435 0.435 0.835 0.835 0.835 0.835 0.835 0.835 0.835 0.835 0.835 0.835 0.835 0.835 0.835 0.835 0.835 0.835"/><feFuncB type="discrete" tableValues="0.702 0.702 0.702 0.702 0.702 0.702 0.702 0.702 0.702 0.702 0.702 0.702 0.702 0.702 0.702 0.702 0.702 0.702 0.702 0.702 0.702 0.702 0.702 0.824 0.824 0.000 0.000 0.000 0.000 0.000 0.000 0.000 0.000 0.000 0.000 0.000 0.000 0.000 0.000 0.000 0.000 0.000 0.000 0.000 0.000 0.000 0.000 0.000 0.000 0.000"/><feFuncA type="discrete" tableValues="1.000 1.000 1.000 1.000 1.000 1.000 1.000 1.000 1.000 1.000 1.000 1.000 1.000 1.000 1.000 1.000 1.000 1.000 1.000 1.000 1.000 1.000 1.000 1.000 1.000 1.000 1.000 1.000 1.000 1.000 1.000 1.000 1.000 1.000 1.000 1.000 1.000 1.000 1.000 1.000 1.000 1.000 1.000 1.000 1.000 1.000 1.000 1.000 1.000 1.000"/></feComponentTransfer><feComposite in2="SourceGraphic" operator="in"/></filter>
</defs>
<g clip-path="url(#us)">
<rect x="300" y="220" width="1240" height="670" fill="#1A71D2"/>
<rect x="780" y="400" width="760" height="490" fill="#000" filter="url(#mott)"/>
<g filter="url(#rag2)">
<path d="M1039.6,486.0 L1037.3,488.5 L1033.1,489.6 L1027.0,490.8 L1024.1,487.6 L1023.6,484.3 L1027.8,482.0 L1033.3,481.9 L1039.0,482.7Z" fill="#ABCF45" stroke="#7AAF75" stroke-width="3" stroke-linejoin="round"/>
<path d="M1056.8,489.0 L1053.6,490.7 L1051.0,492.1 L1047.3,491.6 L1043.3,490.4 L1043.5,487.6 L1046.2,485.2 L1050.8,486.3 L1054.6,486.8Z" fill="#F8E300" stroke="#ABCF45" stroke-width="3" stroke-linejoin="round"/>
<path d="M1073.4,485.0 L1074.1,488.2 L1069.0,488.6 L1064.5,488.8 L1060.6,486.7 L1060.1,483.2 L1064.5,481.2 L1069.2,480.6 L1072.0,482.9Z" fill="#ABCF45" stroke="#47919F" stroke-width="3" stroke-linejoin="round"/>
<path d="M1091.0,488.0 L1089.9,491.0 L1086.3,493.3 L1082.4,491.2 L1080.0,489.3 L1080.6,486.9 L1082.5,484.9 L1085.8,484.8 L1088.9,485.7Z" fill="#7AAF75" stroke="#47919F" stroke-width="3" stroke-linejoin="round"/>
<path d="M852.2,564.6 L871.8,562.5 L885.0,571.2 L874.0,580.0 L867.5,593.1 L854.3,590.9 L845.6,580.0Z" fill="#EFA700" stroke="#ABCF45" stroke-width="4" stroke-linejoin="round"/>
<path d="M867.5,527.5 L882.8,523.1 L893.7,531.8 L902.5,542.8 L889.3,547.2 L874.0,542.8Z" fill="#7AAF75" stroke="#47919F" stroke-width="3" stroke-linejoin="round"/>
<path d="M1083.7,534.8 L1110.0,533.7 L1114.3,557.8 L1085.9,558.9Z" fill="#ABCF45" stroke="#7AAF75" stroke-width="4" stroke-linejoin="round"/>
<path d="M1090.3,539.2 L1105.6,538.1 L1107.8,551.2 L1092.5,553.4Z" fill="#F8E300"/>
<path d="M1226.0,782.0 L1233.0,778.0 L1238.0,788.0 L1237.0,803.0 L1230.0,806.0 L1226.0,795.0Z" fill="#EFA700" stroke="#ABCF45" stroke-width="4" stroke-linejoin="round"/>
<path d="M1204.0,795.0 L1210.0,793.0 L1213.0,803.0 L1209.0,811.0 L1204.0,806.0Z" fill="#F8E300" stroke="#ABCF45" stroke-width="3" stroke-linejoin="round"/>
<path d="M769.2,534.6 L789.4,539.9 L806.9,534.6 L825.7,526.5 L833.8,515.7 L844.6,507.6 L860.7,496.9 L871.5,483.4 L876.9,478.0 L893.0,480.7 L906.5,486.1 L919.9,480.7 L933.4,478.0 L946.8,486.1 L963.0,483.4 L979.1,486.1 L995.3,491.5 L1008.7,486.1 L1016.8,492.0 L1030.3,495.8 L1043.7,500.9 L1059.9,496.3 L1076.0,494.7 L1089.5,493.4 L1090.8,491.5 L1101.5,496.9 L1112.3,505.0 L1125.7,507.6 L1136.5,499.6 L1147.3,494.2 L1152.7,491.5 L1160.7,499.6 L1171.5,505.0 L1182.3,507.6 L1187.6,515.7 L1193.0,523.8 L1198.4,513.0 L1209.2,507.6 L1219.9,513.0 L1222.6,523.8 L1214.6,534.6 L1206.5,539.9 L1195.7,550.7 L1187.6,558.8 L1168.8,560.9 L1150.0,560.1 L1133.8,560.1 L1119.0,559.8 L1109.9,551.2 L1103.4,540.2 L1092.4,533.7 L1081.6,529.4 L1073.3,542.6 L1059.9,539.9 L1057.2,542.6 L1049.1,545.3 L1038.3,553.4 L1022.2,556.1 L1003.4,558.8 L984.5,556.1 L968.4,558.8 L952.2,558.8 L946.8,550.7 L944.2,534.6 L933.4,537.2 L925.3,531.9 L914.6,537.2 L898.4,539.9 L887.6,529.2 L879.6,523.8 L868.8,531.9 L847.3,539.9 L828.4,546.7 L806.9,549.4 L789.4,551.2 L769.2,552.0Z M1225.3,558.8 L1241.5,550.7 L1254.9,539.9 L1268.4,529.2 L1284.5,515.7 L1295.3,505.0 L1306.0,494.2 L1314.1,488.8 L1322.2,491.5 L1327.6,502.3 L1316.8,513.0 L1308.7,526.5 L1295.3,537.2 L1284.5,545.3 L1268.4,556.1 L1252.2,561.5 L1236.1,564.2Z M1308.7,488.8 L1316.8,480.7 L1330.3,480.7 L1343.7,478.0 L1351.8,483.4 L1357.2,491.5 L1357.2,507.6 L1349.1,518.4 L1338.3,518.4 L1330.3,513.0 L1322.2,515.7 L1314.1,507.6Z M1287.2,467.3 L1295.3,461.9 L1308.7,456.5 L1322.2,453.8 L1335.7,455.2 L1349.1,453.8 L1349.1,457.9 L1335.7,459.7 L1322.2,460.5 L1308.7,463.2 L1295.3,468.6Z M1365.3,448.4 L1373.3,443.1 L1381.4,440.4 L1384.1,445.7 L1376.0,451.1 L1367.9,453.8Z M1351.8,480.7 L1359.9,475.3 L1362.6,480.7 L1357.2,488.8Z M1130.9,564.1 L1198.7,564.1 L1222.7,564.1 L1214.0,583.7 L1198.7,603.9 L1133.1,603.9 L1128.7,594.7 L1126.5,579.4Z M1054.3,577.2 L1063.1,573.2 L1074.0,575.0 L1082.8,583.7 L1085.0,594.7 L1078.4,603.0 L1063.1,603.4 L1044.5,603.4 L1047.8,590.3Z M820.4,604.4 L832.5,600.4 L844.6,589.6 L860.7,584.2 L868.8,573.5 L860.7,565.4 L871.5,568.1 L887.6,573.5 L898.4,565.4 L909.2,568.1 L919.9,570.8 L930.7,578.8 L941.5,584.2 L948.2,588.3 L954.9,592.3 L968.4,598.2 L984.5,598.2 L995.3,593.4 L1008.7,588.0 L1016.8,580.2 L1027.6,574.8 L1035.7,569.4 L1045.1,570.8 L1042.4,581.5 L1038.3,589.6 L1033.0,605.7 L1030.3,608.4 L1022.2,613.8 L1011.4,611.1 L1003.4,621.9 L995.3,635.3 L984.5,638.0 L973.8,640.7 L965.7,635.3 L957.6,627.3 L949.5,632.7 L941.5,630.0 L930.7,624.6 L919.9,627.3 L909.2,630.0 L898.4,632.7 L887.6,630.0 L876.9,627.3 L868.8,621.9 L858.0,619.2 L850.0,611.1 L841.9,605.7 L832.5,604.4Z M968.4,578.8 L975.1,576.1 L985.9,577.2 L986.7,582.1 L979.1,584.2 L969.7,583.1Z M1034.7,605.6 L1080.6,605.6 L1079.5,636.2 L1076.2,639.5 L1071.8,631.8 L1067.5,627.5 L1064.2,634.0 L1063.1,642.8 L1054.3,649.3 L1045.6,645.0 L1042.3,634.0 L1036.9,625.3 L1031.4,616.5Z M1081.7,605.6 L1133.1,605.6 L1139.6,623.1 L1142.9,642.8 L1144.0,659.2 L1137.4,661.4 L1130.9,655.5 L1124.3,651.1 L1120.0,644.5 L1111.2,640.2 L1102.5,640.2 L1093.7,644.5 L1085.0,640.2 L1081.7,631.8Z M1113.8,672.7 L1120.0,668.4 L1128.3,672.7 L1127.2,681.0 L1117.1,681.7Z M1135.7,605.6 L1152.8,605.6 L1154.9,618.7 L1168.1,623.1 L1181.2,614.3 L1184.5,605.6 L1189.9,612.2 L1198.7,626.4 L1208.5,631.8 L1214.0,627.5 L1212.2,634.0 L1198.7,635.8 L1187.7,639.5 L1176.8,643.9 L1168.1,648.2 L1154.9,652.6 L1146.2,655.9 L1143.6,642.8 L1140.7,623.1Z M1184.1,607.5 L1197.2,600.9 L1216.9,599.8 L1230.0,600.9 L1236.5,607.5 L1260.6,609.7 L1265.0,616.2 L1256.2,618.4 L1247.5,614.0 L1238.7,618.4 L1230.0,622.8 L1221.2,627.2 L1212.5,631.5 L1203.7,625.0 L1195.0,616.2Z M1225.6,594.3 L1238.7,592.2 L1251.8,590.0 L1262.8,592.2 L1273.7,585.6 L1278.1,579.0 L1291.2,581.2 L1304.3,576.9 L1317.4,572.5 L1330.6,570.3 L1334.9,576.9 L1330.6,585.6 L1321.8,592.2 L1313.1,603.1 L1306.5,609.7 L1300.0,616.2 L1291.2,611.8 L1289.0,604.2 L1279.2,598.7 L1269.3,605.3 L1262.8,609.7 L1236.5,607.5 L1230.0,601.3Z M1225.6,660.0 L1236.5,662.1 L1251.8,660.0 L1260.6,653.4 L1267.2,651.2 L1256.2,664.3 L1243.1,673.1 L1234.3,677.4 L1227.8,668.7Z M895.7,648.8 L903.8,651.5 L914.6,662.3 L925.3,667.6 L936.1,673.0 L946.8,675.7 L954.9,678.4 L963.0,667.6 L971.1,662.3 L979.1,667.6 L989.9,673.0 L1000.7,665.0 L1014.1,662.3 L1019.5,667.6 L1020.5,658.1 L1023.7,666.8 L1032.5,671.2 L1039.0,675.6 L1043.4,688.7 L1054.3,692.0 L1067.5,686.5 L1076.2,687.6 L1085.0,689.1 L1093.7,693.5 L1102.5,691.3 L1111.2,686.9 L1122.1,686.9 L1133.1,684.8 L1144.0,682.6 L1154.9,684.8 L1163.7,680.4 L1172.4,676.0 L1183.4,674.9 L1194.3,671.6 L1207.4,667.3 L1218.4,661.8 L1229.3,660.3 L1227.1,680.0 L1222.7,704.0 L1216.2,711.7 L1203.0,713.8 L1187.7,712.8 L1176.8,708.4 L1161.5,712.8 L1148.4,709.5 L1141.8,708.4 L1133.1,712.8 L1120.0,714.9 L1102.5,712.8 L1093.7,708.4 L1089.3,712.8 L1074.0,714.9 L1063.1,712.8 L1052.2,714.9 L1045.6,708.4 L1046.4,713.4 L1033.0,716.1 L1022.2,713.4 L1006.0,716.1 L989.9,718.8 L973.8,716.1 L963.0,713.4 L952.2,716.1 L936.1,710.7 L919.9,713.4 L909.2,710.7 L906.5,699.9 L895.7,694.6 L898.4,678.4 L893.0,662.3Z M919.9,743.0 L930.7,734.9 L941.5,734.9 L952.2,740.3 L941.5,748.4 L930.7,756.4 L919.9,767.2 L906.5,775.3 L893.0,786.0 L883.6,794.1 L887.6,775.3 L898.4,764.5 L909.2,753.8Z M1022.2,732.2 L1033.0,726.8 L1049.1,729.5 L1059.9,737.6 L1062.6,753.8 L1049.1,759.1 L1033.0,759.1 L1022.2,753.8 L1016.8,743.0Z M1091.5,710.5 L1107.6,710.5 L1129.2,714.0 L1126.5,723.4 L1107.6,726.1 L1092.8,727.5Z M1193.8,747.6 L1209.9,745.0 L1220.7,728.8 L1224.7,720.7 L1228.7,742.3 L1236.8,766.5 L1231.4,769.2 L1220.7,771.9 L1209.9,779.9 L1201.8,785.3 L1195.1,779.9 L1195.1,763.8Z M1207.2,823.0 L1215.3,828.4 L1228.7,831.1 L1242.2,825.7 L1251.6,823.0 L1253.0,844.5 L1247.6,855.3 L1236.8,863.4 L1228.7,860.7 L1218.0,844.5 L1212.6,831.1Z M768.6,566.2 L793.7,566.2 L802.5,570.6 L793.7,577.2 L787.2,585.9 L776.2,590.3 L768.6,592.5Z M768.6,649.3 L778.4,642.8 L789.3,638.4 L802.5,631.8 L811.2,625.3 L816.7,636.2 L806.8,645.0 L798.1,651.5 L793.7,664.6 L782.8,669.0 L768.6,672.3Z M802.5,605.6 L815.6,602.3 L830.9,597.9 L830.9,602.3 L820.0,605.6 L811.2,610.0Z M1380.9,439.3 L1391.8,435.0 L1404.9,432.8 L1418.1,430.6 L1426.8,426.2 L1435.6,421.8 L1439.9,413.1 L1446.5,404.3 L1450.9,408.7 L1448.7,417.5 L1455.2,426.2 L1461.8,432.8 L1448.7,437.2 L1435.6,435.0 L1426.8,441.5 L1413.7,443.7 L1400.6,448.1 L1387.4,452.5 L1380.9,452.5Z" fill="none" stroke="#47919F" stroke-width="10" stroke-linejoin="round"/>
<path d="M769.2,534.6 L789.4,539.9 L806.9,534.6 L825.7,526.5 L833.8,515.7 L844.6,507.6 L860.7,496.9 L871.5,483.4 L876.9,478.0 L893.0,480.7 L906.5,486.1 L919.9,480.7 L933.4,478.0 L946.8,486.1 L963.0,483.4 L979.1,486.1 L995.3,491.5 L1008.7,486.1 L1016.8,492.0 L1030.3,495.8 L1043.7,500.9 L1059.9,496.3 L1076.0,494.7 L1089.5,493.4 L1090.8,491.5 L1101.5,496.9 L1112.3,505.0 L1125.7,507.6 L1136.5,499.6 L1147.3,494.2 L1152.7,491.5 L1160.7,499.6 L1171.5,505.0 L1182.3,507.6 L1187.6,515.7 L1193.0,523.8 L1198.4,513.0 L1209.2,507.6 L1219.9,513.0 L1222.6,523.8 L1214.6,534.6 L1206.5,539.9 L1195.7,550.7 L1187.6,558.8 L1168.8,560.9 L1150.0,560.1 L1133.8,560.1 L1119.0,559.8 L1109.9,551.2 L1103.4,540.2 L1092.4,533.7 L1081.6,529.4 L1073.3,542.6 L1059.9,539.9 L1057.2,542.6 L1049.1,545.3 L1038.3,553.4 L1022.2,556.1 L1003.4,558.8 L984.5,556.1 L968.4,558.8 L952.2,558.8 L946.8,550.7 L944.2,534.6 L933.4,537.2 L925.3,531.9 L914.6,537.2 L898.4,539.9 L887.6,529.2 L879.6,523.8 L868.8,531.9 L847.3,539.9 L828.4,546.7 L806.9,549.4 L789.4,551.2 L769.2,552.0Z M1225.3,558.8 L1241.5,550.7 L1254.9,539.9 L1268.4,529.2 L1284.5,515.7 L1295.3,505.0 L1306.0,494.2 L1314.1,488.8 L1322.2,491.5 L1327.6,502.3 L1316.8,513.0 L1308.7,526.5 L1295.3,537.2 L1284.5,545.3 L1268.4,556.1 L1252.2,561.5 L1236.1,564.2Z M1308.7,488.8 L1316.8,480.7 L1330.3,480.7 L1343.7,478.0 L1351.8,483.4 L1357.2,491.5 L1357.2,507.6 L1349.1,518.4 L1338.3,518.4 L1330.3,513.0 L1322.2,515.7 L1314.1,507.6Z M1287.2,467.3 L1295.3,461.9 L1308.7,456.5 L1322.2,453.8 L1335.7,455.2 L1349.1,453.8 L1349.1,457.9 L1335.7,459.7 L1322.2,460.5 L1308.7,463.2 L1295.3,468.6Z M1365.3,448.4 L1373.3,443.1 L1381.4,440.4 L1384.1,445.7 L1376.0,451.1 L1367.9,453.8Z M1351.8,480.7 L1359.9,475.3 L1362.6,480.7 L1357.2,488.8Z M1130.9,564.1 L1198.7,564.1 L1222.7,564.1 L1214.0,583.7 L1198.7,603.9 L1133.1,603.9 L1128.7,594.7 L1126.5,579.4Z M1054.3,577.2 L1063.1,573.2 L1074.0,575.0 L1082.8,583.7 L1085.0,594.7 L1078.4,603.0 L1063.1,603.4 L1044.5,603.4 L1047.8,590.3Z M820.4,604.4 L832.5,600.4 L844.6,589.6 L860.7,584.2 L868.8,573.5 L860.7,565.4 L871.5,568.1 L887.6,573.5 L898.4,565.4 L909.2,568.1 L919.9,570.8 L930.7,578.8 L941.5,584.2 L948.2,588.3 L954.9,592.3 L968.4,598.2 L984.5,598.2 L995.3,593.4 L1008.7,588.0 L1016.8,580.2 L1027.6,574.8 L1035.7,569.4 L1045.1,570.8 L1042.4,581.5 L1038.3,589.6 L1033.0,605.7 L1030.3,608.4 L1022.2,613.8 L1011.4,611.1 L1003.4,621.9 L995.3,635.3 L984.5,638.0 L973.8,640.7 L965.7,635.3 L957.6,627.3 L949.5,632.7 L941.5,630.0 L930.7,624.6 L919.9,627.3 L909.2,630.0 L898.4,632.7 L887.6,630.0 L876.9,627.3 L868.8,621.9 L858.0,619.2 L850.0,611.1 L841.9,605.7 L832.5,604.4Z M968.4,578.8 L975.1,576.1 L985.9,577.2 L986.7,582.1 L979.1,584.2 L969.7,583.1Z M1034.7,605.6 L1080.6,605.6 L1079.5,636.2 L1076.2,639.5 L1071.8,631.8 L1067.5,627.5 L1064.2,634.0 L1063.1,642.8 L1054.3,649.3 L1045.6,645.0 L1042.3,634.0 L1036.9,625.3 L1031.4,616.5Z M1081.7,605.6 L1133.1,605.6 L1139.6,623.1 L1142.9,642.8 L1144.0,659.2 L1137.4,661.4 L1130.9,655.5 L1124.3,651.1 L1120.0,644.5 L1111.2,640.2 L1102.5,640.2 L1093.7,644.5 L1085.0,640.2 L1081.7,631.8Z M1113.8,672.7 L1120.0,668.4 L1128.3,672.7 L1127.2,681.0 L1117.1,681.7Z M1135.7,605.6 L1152.8,605.6 L1154.9,618.7 L1168.1,623.1 L1181.2,614.3 L1184.5,605.6 L1189.9,612.2 L1198.7,626.4 L1208.5,631.8 L1214.0,627.5 L1212.2,634.0 L1198.7,635.8 L1187.7,639.5 L1176.8,643.9 L1168.1,648.2 L1154.9,652.6 L1146.2,655.9 L1143.6,642.8 L1140.7,623.1Z M1184.1,607.5 L1197.2,600.9 L1216.9,599.8 L1230.0,600.9 L1236.5,607.5 L1260.6,609.7 L1265.0,616.2 L1256.2,618.4 L1247.5,614.0 L1238.7,618.4 L1230.0,622.8 L1221.2,627.2 L1212.5,631.5 L1203.7,625.0 L1195.0,616.2Z M1225.6,594.3 L1238.7,592.2 L1251.8,590.0 L1262.8,592.2 L1273.7,585.6 L1278.1,579.0 L1291.2,581.2 L1304.3,576.9 L1317.4,572.5 L1330.6,570.3 L1334.9,576.9 L1330.6,585.6 L1321.8,592.2 L1313.1,603.1 L1306.5,609.7 L1300.0,616.2 L1291.2,611.8 L1289.0,604.2 L1279.2,598.7 L1269.3,605.3 L1262.8,609.7 L1236.5,607.5 L1230.0,601.3Z M1225.6,660.0 L1236.5,662.1 L1251.8,660.0 L1260.6,653.4 L1267.2,651.2 L1256.2,664.3 L1243.1,673.1 L1234.3,677.4 L1227.8,668.7Z M895.7,648.8 L903.8,651.5 L914.6,662.3 L925.3,667.6 L936.1,673.0 L946.8,675.7 L954.9,678.4 L963.0,667.6 L971.1,662.3 L979.1,667.6 L989.9,673.0 L1000.7,665.0 L1014.1,662.3 L1019.5,667.6 L1020.5,658.1 L1023.7,666.8 L1032.5,671.2 L1039.0,675.6 L1043.4,688.7 L1054.3,692.0 L1067.5,686.5 L1076.2,687.6 L1085.0,689.1 L1093.7,693.5 L1102.5,691.3 L1111.2,686.9 L1122.1,686.9 L1133.1,684.8 L1144.0,682.6 L1154.9,684.8 L1163.7,680.4 L1172.4,676.0 L1183.4,674.9 L1194.3,671.6 L1207.4,667.3 L1218.4,661.8 L1229.3,660.3 L1227.1,680.0 L1222.7,704.0 L1216.2,711.7 L1203.0,713.8 L1187.7,712.8 L1176.8,708.4 L1161.5,712.8 L1148.4,709.5 L1141.8,708.4 L1133.1,712.8 L1120.0,714.9 L1102.5,712.8 L1093.7,708.4 L1089.3,712.8 L1074.0,714.9 L1063.1,712.8 L1052.2,714.9 L1045.6,708.4 L1046.4,713.4 L1033.0,716.1 L1022.2,713.4 L1006.0,716.1 L989.9,718.8 L973.8,716.1 L963.0,713.4 L952.2,716.1 L936.1,710.7 L919.9,713.4 L909.2,710.7 L906.5,699.9 L895.7,694.6 L898.4,678.4 L893.0,662.3Z M919.9,743.0 L930.7,734.9 L941.5,734.9 L952.2,740.3 L941.5,748.4 L930.7,756.4 L919.9,767.2 L906.5,775.3 L893.0,786.0 L883.6,794.1 L887.6,775.3 L898.4,764.5 L909.2,753.8Z M1022.2,732.2 L1033.0,726.8 L1049.1,729.5 L1059.9,737.6 L1062.6,753.8 L1049.1,759.1 L1033.0,759.1 L1022.2,753.8 L1016.8,743.0Z M1091.5,710.5 L1107.6,710.5 L1129.2,714.0 L1126.5,723.4 L1107.6,726.1 L1092.8,727.5Z M1193.8,747.6 L1209.9,745.0 L1220.7,728.8 L1224.7,720.7 L1228.7,742.3 L1236.8,766.5 L1231.4,769.2 L1220.7,771.9 L1209.9,779.9 L1201.8,785.3 L1195.1,779.9 L1195.1,763.8Z M1207.2,823.0 L1215.3,828.4 L1228.7,831.1 L1242.2,825.7 L1251.6,823.0 L1253.0,844.5 L1247.6,855.3 L1236.8,863.4 L1228.7,860.7 L1218.0,844.5 L1212.6,831.1Z M768.6,566.2 L793.7,566.2 L802.5,570.6 L793.7,577.2 L787.2,585.9 L776.2,590.3 L768.6,592.5Z M768.6,649.3 L778.4,642.8 L789.3,638.4 L802.5,631.8 L811.2,625.3 L816.7,636.2 L806.8,645.0 L798.1,651.5 L793.7,664.6 L782.8,669.0 L768.6,672.3Z M802.5,605.6 L815.6,602.3 L830.9,597.9 L830.9,602.3 L820.0,605.6 L811.2,610.0Z M1380.9,439.3 L1391.8,435.0 L1404.9,432.8 L1418.1,430.6 L1426.8,426.2 L1435.6,421.8 L1439.9,413.1 L1446.5,404.3 L1450.9,408.7 L1448.7,417.5 L1455.2,426.2 L1461.8,432.8 L1448.7,437.2 L1435.6,435.0 L1426.8,441.5 L1413.7,443.7 L1400.6,448.1 L1387.4,452.5 L1380.9,452.5Z" fill="none" stroke="#7AAF75" stroke-width="8" stroke-linejoin="round"/>
<path d="M769.2,534.6 L789.4,539.9 L806.9,534.6 L825.7,526.5 L833.8,515.7 L844.6,507.6 L860.7,496.9 L871.5,483.4 L876.9,478.0 L893.0,480.7 L906.5,486.1 L919.9,480.7 L933.4,478.0 L946.8,486.1 L963.0,483.4 L979.1,486.1 L995.3,491.5 L1008.7,486.1 L1016.8,492.0 L1030.3,495.8 L1043.7,500.9 L1059.9,496.3 L1076.0,494.7 L1089.5,493.4 L1090.8,491.5 L1101.5,496.9 L1112.3,505.0 L1125.7,507.6 L1136.5,499.6 L1147.3,494.2 L1152.7,491.5 L1160.7,499.6 L1171.5,505.0 L1182.3,507.6 L1187.6,515.7 L1193.0,523.8 L1198.4,513.0 L1209.2,507.6 L1219.9,513.0 L1222.6,523.8 L1214.6,534.6 L1206.5,539.9 L1195.7,550.7 L1187.6,558.8 L1168.8,560.9 L1150.0,560.1 L1133.8,560.1 L1119.0,559.8 L1109.9,551.2 L1103.4,540.2 L1092.4,533.7 L1081.6,529.4 L1073.3,542.6 L1059.9,539.9 L1057.2,542.6 L1049.1,545.3 L1038.3,553.4 L1022.2,556.1 L1003.4,558.8 L984.5,556.1 L968.4,558.8 L952.2,558.8 L946.8,550.7 L944.2,534.6 L933.4,537.2 L925.3,531.9 L914.6,537.2 L898.4,539.9 L887.6,529.2 L879.6,523.8 L868.8,531.9 L847.3,539.9 L828.4,546.7 L806.9,549.4 L789.4,551.2 L769.2,552.0Z M1225.3,558.8 L1241.5,550.7 L1254.9,539.9 L1268.4,529.2 L1284.5,515.7 L1295.3,505.0 L1306.0,494.2 L1314.1,488.8 L1322.2,491.5 L1327.6,502.3 L1316.8,513.0 L1308.7,526.5 L1295.3,537.2 L1284.5,545.3 L1268.4,556.1 L1252.2,561.5 L1236.1,564.2Z M1308.7,488.8 L1316.8,480.7 L1330.3,480.7 L1343.7,478.0 L1351.8,483.4 L1357.2,491.5 L1357.2,507.6 L1349.1,518.4 L1338.3,518.4 L1330.3,513.0 L1322.2,515.7 L1314.1,507.6Z M1287.2,467.3 L1295.3,461.9 L1308.7,456.5 L1322.2,453.8 L1335.7,455.2 L1349.1,453.8 L1349.1,457.9 L1335.7,459.7 L1322.2,460.5 L1308.7,463.2 L1295.3,468.6Z M1365.3,448.4 L1373.3,443.1 L1381.4,440.4 L1384.1,445.7 L1376.0,451.1 L1367.9,453.8Z M1351.8,480.7 L1359.9,475.3 L1362.6,480.7 L1357.2,488.8Z M1130.9,564.1 L1198.7,564.1 L1222.7,564.1 L1214.0,583.7 L1198.7,603.9 L1133.1,603.9 L1128.7,594.7 L1126.5,579.4Z M1054.3,577.2 L1063.1,573.2 L1074.0,575.0 L1082.8,583.7 L1085.0,594.7 L1078.4,603.0 L1063.1,603.4 L1044.5,603.4 L1047.8,590.3Z M820.4,604.4 L832.5,600.4 L844.6,589.6 L860.7,584.2 L868.8,573.5 L860.7,565.4 L871.5,568.1 L887.6,573.5 L898.4,565.4 L909.2,568.1 L919.9,570.8 L930.7,578.8 L941.5,584.2 L948.2,588.3 L954.9,592.3 L968.4,598.2 L984.5,598.2 L995.3,593.4 L1008.7,588.0 L1016.8,580.2 L1027.6,574.8 L1035.7,569.4 L1045.1,570.8 L1042.4,581.5 L1038.3,589.6 L1033.0,605.7 L1030.3,608.4 L1022.2,613.8 L1011.4,611.1 L1003.4,621.9 L995.3,635.3 L984.5,638.0 L973.8,640.7 L965.7,635.3 L957.6,627.3 L949.5,632.7 L941.5,630.0 L930.7,624.6 L919.9,627.3 L909.2,630.0 L898.4,632.7 L887.6,630.0 L876.9,627.3 L868.8,621.9 L858.0,619.2 L850.0,611.1 L841.9,605.7 L832.5,604.4Z M968.4,578.8 L975.1,576.1 L985.9,577.2 L986.7,582.1 L979.1,584.2 L969.7,583.1Z M1034.7,605.6 L1080.6,605.6 L1079.5,636.2 L1076.2,639.5 L1071.8,631.8 L1067.5,627.5 L1064.2,634.0 L1063.1,642.8 L1054.3,649.3 L1045.6,645.0 L1042.3,634.0 L1036.9,625.3 L1031.4,616.5Z M1081.7,605.6 L1133.1,605.6 L1139.6,623.1 L1142.9,642.8 L1144.0,659.2 L1137.4,661.4 L1130.9,655.5 L1124.3,651.1 L1120.0,644.5 L1111.2,640.2 L1102.5,640.2 L1093.7,644.5 L1085.0,640.2 L1081.7,631.8Z M1113.8,672.7 L1120.0,668.4 L1128.3,672.7 L1127.2,681.0 L1117.1,681.7Z M1135.7,605.6 L1152.8,605.6 L1154.9,618.7 L1168.1,623.1 L1181.2,614.3 L1184.5,605.6 L1189.9,612.2 L1198.7,626.4 L1208.5,631.8 L1214.0,627.5 L1212.2,634.0 L1198.7,635.8 L1187.7,639.5 L1176.8,643.9 L1168.1,648.2 L1154.9,652.6 L1146.2,655.9 L1143.6,642.8 L1140.7,623.1Z M1184.1,607.5 L1197.2,600.9 L1216.9,599.8 L1230.0,600.9 L1236.5,607.5 L1260.6,609.7 L1265.0,616.2 L1256.2,618.4 L1247.5,614.0 L1238.7,618.4 L1230.0,622.8 L1221.2,627.2 L1212.5,631.5 L1203.7,625.0 L1195.0,616.2Z M1225.6,594.3 L1238.7,592.2 L1251.8,590.0 L1262.8,592.2 L1273.7,585.6 L1278.1,579.0 L1291.2,581.2 L1304.3,576.9 L1317.4,572.5 L1330.6,570.3 L1334.9,576.9 L1330.6,585.6 L1321.8,592.2 L1313.1,603.1 L1306.5,609.7 L1300.0,616.2 L1291.2,611.8 L1289.0,604.2 L1279.2,598.7 L1269.3,605.3 L1262.8,609.7 L1236.5,607.5 L1230.0,601.3Z M1225.6,660.0 L1236.5,662.1 L1251.8,660.0 L1260.6,653.4 L1267.2,651.2 L1256.2,664.3 L1243.1,673.1 L1234.3,677.4 L1227.8,668.7Z M895.7,648.8 L903.8,651.5 L914.6,662.3 L925.3,667.6 L936.1,673.0 L946.8,675.7 L954.9,678.4 L963.0,667.6 L971.1,662.3 L979.1,667.6 L989.9,673.0 L1000.7,665.0 L1014.1,662.3 L1019.5,667.6 L1020.5,658.1 L1023.7,666.8 L1032.5,671.2 L1039.0,675.6 L1043.4,688.7 L1054.3,692.0 L1067.5,686.5 L1076.2,687.6 L1085.0,689.1 L1093.7,693.5 L1102.5,691.3 L1111.2,686.9 L1122.1,686.9 L1133.1,684.8 L1144.0,682.6 L1154.9,684.8 L1163.7,680.4 L1172.4,676.0 L1183.4,674.9 L1194.3,671.6 L1207.4,667.3 L1218.4,661.8 L1229.3,660.3 L1227.1,680.0 L1222.7,704.0 L1216.2,711.7 L1203.0,713.8 L1187.7,712.8 L1176.8,708.4 L1161.5,712.8 L1148.4,709.5 L1141.8,708.4 L1133.1,712.8 L1120.0,714.9 L1102.5,712.8 L1093.7,708.4 L1089.3,712.8 L1074.0,714.9 L1063.1,712.8 L1052.2,714.9 L1045.6,708.4 L1046.4,713.4 L1033.0,716.1 L1022.2,713.4 L1006.0,716.1 L989.9,718.8 L973.8,716.1 L963.0,713.4 L952.2,716.1 L936.1,710.7 L919.9,713.4 L909.2,710.7 L906.5,699.9 L895.7,694.6 L898.4,678.4 L893.0,662.3Z M919.9,743.0 L930.7,734.9 L941.5,734.9 L952.2,740.3 L941.5,748.4 L930.7,756.4 L919.9,767.2 L906.5,775.3 L893.0,786.0 L883.6,794.1 L887.6,775.3 L898.4,764.5 L909.2,753.8Z M1022.2,732.2 L1033.0,726.8 L1049.1,729.5 L1059.9,737.6 L1062.6,753.8 L1049.1,759.1 L1033.0,759.1 L1022.2,753.8 L1016.8,743.0Z M1091.5,710.5 L1107.6,710.5 L1129.2,714.0 L1126.5,723.4 L1107.6,726.1 L1092.8,727.5Z M1193.8,747.6 L1209.9,745.0 L1220.7,728.8 L1224.7,720.7 L1228.7,742.3 L1236.8,766.5 L1231.4,769.2 L1220.7,771.9 L1209.9,779.9 L1201.8,785.3 L1195.1,779.9 L1195.1,763.8Z M1207.2,823.0 L1215.3,828.4 L1228.7,831.1 L1242.2,825.7 L1251.6,823.0 L1253.0,844.5 L1247.6,855.3 L1236.8,863.4 L1228.7,860.7 L1218.0,844.5 L1212.6,831.1Z M768.6,566.2 L793.7,566.2 L802.5,570.6 L793.7,577.2 L787.2,585.9 L776.2,590.3 L768.6,592.5Z M768.6,649.3 L778.4,642.8 L789.3,638.4 L802.5,631.8 L811.2,625.3 L816.7,636.2 L806.8,645.0 L798.1,651.5 L793.7,664.6 L782.8,669.0 L768.6,672.3Z M802.5,605.6 L815.6,602.3 L830.9,597.9 L830.9,602.3 L820.0,605.6 L811.2,610.0Z M1380.9,439.3 L1391.8,435.0 L1404.9,432.8 L1418.1,430.6 L1426.8,426.2 L1435.6,421.8 L1439.9,413.1 L1446.5,404.3 L1450.9,408.7 L1448.7,417.5 L1455.2,426.2 L1461.8,432.8 L1448.7,437.2 L1435.6,435.0 L1426.8,441.5 L1413.7,443.7 L1400.6,448.1 L1387.4,452.5 L1380.9,452.5Z" fill="none" stroke="#ABCF45" stroke-width="6.4" stroke-linejoin="round"/>
<path d="M769.2,534.6 L789.4,539.9 L806.9,534.6 L825.7,526.5 L833.8,515.7 L844.6,507.6 L860.7,496.9 L871.5,483.4 L876.9,478.0 L893.0,480.7 L906.5,486.1 L919.9,480.7 L933.4,478.0 L946.8,486.1 L963.0,483.4 L979.1,486.1 L995.3,491.5 L1008.7,486.1 L1016.8,492.0 L1030.3,495.8 L1043.7,500.9 L1059.9,496.3 L1076.0,494.7 L1089.5,493.4 L1090.8,491.5 L1101.5,496.9 L1112.3,505.0 L1125.7,507.6 L1136.5,499.6 L1147.3,494.2 L1152.7,491.5 L1160.7,499.6 L1171.5,505.0 L1182.3,507.6 L1187.6,515.7 L1193.0,523.8 L1198.4,513.0 L1209.2,507.6 L1219.9,513.0 L1222.6,523.8 L1214.6,534.6 L1206.5,539.9 L1195.7,550.7 L1187.6,558.8 L1168.8,560.9 L1150.0,560.1 L1133.8,560.1 L1119.0,559.8 L1109.9,551.2 L1103.4,540.2 L1092.4,533.7 L1081.6,529.4 L1073.3,542.6 L1059.9,539.9 L1057.2,542.6 L1049.1,545.3 L1038.3,553.4 L1022.2,556.1 L1003.4,558.8 L984.5,556.1 L968.4,558.8 L952.2,558.8 L946.8,550.7 L944.2,534.6 L933.4,537.2 L925.3,531.9 L914.6,537.2 L898.4,539.9 L887.6,529.2 L879.6,523.8 L868.8,531.9 L847.3,539.9 L828.4,546.7 L806.9,549.4 L789.4,551.2 L769.2,552.0Z M1225.3,558.8 L1241.5,550.7 L1254.9,539.9 L1268.4,529.2 L1284.5,515.7 L1295.3,505.0 L1306.0,494.2 L1314.1,488.8 L1322.2,491.5 L1327.6,502.3 L1316.8,513.0 L1308.7,526.5 L1295.3,537.2 L1284.5,545.3 L1268.4,556.1 L1252.2,561.5 L1236.1,564.2Z M1308.7,488.8 L1316.8,480.7 L1330.3,480.7 L1343.7,478.0 L1351.8,483.4 L1357.2,491.5 L1357.2,507.6 L1349.1,518.4 L1338.3,518.4 L1330.3,513.0 L1322.2,515.7 L1314.1,507.6Z M1287.2,467.3 L1295.3,461.9 L1308.7,456.5 L1322.2,453.8 L1335.7,455.2 L1349.1,453.8 L1349.1,457.9 L1335.7,459.7 L1322.2,460.5 L1308.7,463.2 L1295.3,468.6Z M1365.3,448.4 L1373.3,443.1 L1381.4,440.4 L1384.1,445.7 L1376.0,451.1 L1367.9,453.8Z M1351.8,480.7 L1359.9,475.3 L1362.6,480.7 L1357.2,488.8Z M1130.9,564.1 L1198.7,564.1 L1222.7,564.1 L1214.0,583.7 L1198.7,603.9 L1133.1,603.9 L1128.7,594.7 L1126.5,579.4Z M1054.3,577.2 L1063.1,573.2 L1074.0,575.0 L1082.8,583.7 L1085.0,594.7 L1078.4,603.0 L1063.1,603.4 L1044.5,603.4 L1047.8,590.3Z M820.4,604.4 L832.5,600.4 L844.6,589.6 L860.7,584.2 L868.8,573.5 L860.7,565.4 L871.5,568.1 L887.6,573.5 L898.4,565.4 L909.2,568.1 L919.9,570.8 L930.7,578.8 L941.5,584.2 L948.2,588.3 L954.9,592.3 L968.4,598.2 L984.5,598.2 L995.3,593.4 L1008.7,588.0 L1016.8,580.2 L1027.6,574.8 L1035.7,569.4 L1045.1,570.8 L1042.4,581.5 L1038.3,589.6 L1033.0,605.7 L1030.3,608.4 L1022.2,613.8 L1011.4,611.1 L1003.4,621.9 L995.3,635.3 L984.5,638.0 L973.8,640.7 L965.7,635.3 L957.6,627.3 L949.5,632.7 L941.5,630.0 L930.7,624.6 L919.9,627.3 L909.2,630.0 L898.4,632.7 L887.6,630.0 L876.9,627.3 L868.8,621.9 L858.0,619.2 L850.0,611.1 L841.9,605.7 L832.5,604.4Z M968.4,578.8 L975.1,576.1 L985.9,577.2 L986.7,582.1 L979.1,584.2 L969.7,583.1Z M1034.7,605.6 L1080.6,605.6 L1079.5,636.2 L1076.2,639.5 L1071.8,631.8 L1067.5,627.5 L1064.2,634.0 L1063.1,642.8 L1054.3,649.3 L1045.6,645.0 L1042.3,634.0 L1036.9,625.3 L1031.4,616.5Z M1081.7,605.6 L1133.1,605.6 L1139.6,623.1 L1142.9,642.8 L1144.0,659.2 L1137.4,661.4 L1130.9,655.5 L1124.3,651.1 L1120.0,644.5 L1111.2,640.2 L1102.5,640.2 L1093.7,644.5 L1085.0,640.2 L1081.7,631.8Z M1113.8,672.7 L1120.0,668.4 L1128.3,672.7 L1127.2,681.0 L1117.1,681.7Z M1135.7,605.6 L1152.8,605.6 L1154.9,618.7 L1168.1,623.1 L1181.2,614.3 L1184.5,605.6 L1189.9,612.2 L1198.7,626.4 L1208.5,631.8 L1214.0,627.5 L1212.2,634.0 L1198.7,635.8 L1187.7,639.5 L1176.8,643.9 L1168.1,648.2 L1154.9,652.6 L1146.2,655.9 L1143.6,642.8 L1140.7,623.1Z M1184.1,607.5 L1197.2,600.9 L1216.9,599.8 L1230.0,600.9 L1236.5,607.5 L1260.6,609.7 L1265.0,616.2 L1256.2,618.4 L1247.5,614.0 L1238.7,618.4 L1230.0,622.8 L1221.2,627.2 L1212.5,631.5 L1203.7,625.0 L1195.0,616.2Z M1225.6,594.3 L1238.7,592.2 L1251.8,590.0 L1262.8,592.2 L1273.7,585.6 L1278.1,579.0 L1291.2,581.2 L1304.3,576.9 L1317.4,572.5 L1330.6,570.3 L1334.9,576.9 L1330.6,585.6 L1321.8,592.2 L1313.1,603.1 L1306.5,609.7 L1300.0,616.2 L1291.2,611.8 L1289.0,604.2 L1279.2,598.7 L1269.3,605.3 L1262.8,609.7 L1236.5,607.5 L1230.0,601.3Z M1225.6,660.0 L1236.5,662.1 L1251.8,660.0 L1260.6,653.4 L1267.2,651.2 L1256.2,664.3 L1243.1,673.1 L1234.3,677.4 L1227.8,668.7Z M895.7,648.8 L903.8,651.5 L914.6,662.3 L925.3,667.6 L936.1,673.0 L946.8,675.7 L954.9,678.4 L963.0,667.6 L971.1,662.3 L979.1,667.6 L989.9,673.0 L1000.7,665.0 L1014.1,662.3 L1019.5,667.6 L1020.5,658.1 L1023.7,666.8 L1032.5,671.2 L1039.0,675.6 L1043.4,688.7 L1054.3,692.0 L1067.5,686.5 L1076.2,687.6 L1085.0,689.1 L1093.7,693.5 L1102.5,691.3 L1111.2,686.9 L1122.1,686.9 L1133.1,684.8 L1144.0,682.6 L1154.9,684.8 L1163.7,680.4 L1172.4,676.0 L1183.4,674.9 L1194.3,671.6 L1207.4,667.3 L1218.4,661.8 L1229.3,660.3 L1227.1,680.0 L1222.7,704.0 L1216.2,711.7 L1203.0,713.8 L1187.7,712.8 L1176.8,708.4 L1161.5,712.8 L1148.4,709.5 L1141.8,708.4 L1133.1,712.8 L1120.0,714.9 L1102.5,712.8 L1093.7,708.4 L1089.3,712.8 L1074.0,714.9 L1063.1,712.8 L1052.2,714.9 L1045.6,708.4 L1046.4,713.4 L1033.0,716.1 L1022.2,713.4 L1006.0,716.1 L989.9,718.8 L973.8,716.1 L963.0,713.4 L952.2,716.1 L936.1,710.7 L919.9,713.4 L909.2,710.7 L906.5,699.9 L895.7,694.6 L898.4,678.4 L893.0,662.3Z M919.9,743.0 L930.7,734.9 L941.5,734.9 L952.2,740.3 L941.5,748.4 L930.7,756.4 L919.9,767.2 L906.5,775.3 L893.0,786.0 L883.6,794.1 L887.6,775.3 L898.4,764.5 L909.2,753.8Z M1022.2,732.2 L1033.0,726.8 L1049.1,729.5 L1059.9,737.6 L1062.6,753.8 L1049.1,759.1 L1033.0,759.1 L1022.2,753.8 L1016.8,743.0Z M1091.5,710.5 L1107.6,710.5 L1129.2,714.0 L1126.5,723.4 L1107.6,726.1 L1092.8,727.5Z M1193.8,747.6 L1209.9,745.0 L1220.7,728.8 L1224.7,720.7 L1228.7,742.3 L1236.8,766.5 L1231.4,769.2 L1220.7,771.9 L1209.9,779.9 L1201.8,785.3 L1195.1,779.9 L1195.1,763.8Z M1207.2,823.0 L1215.3,828.4 L1228.7,831.1 L1242.2,825.7 L1251.6,823.0 L1253.0,844.5 L1247.6,855.3 L1236.8,863.4 L1228.7,860.7 L1218.0,844.5 L1212.6,831.1Z M768.6,566.2 L793.7,566.2 L802.5,570.6 L793.7,577.2 L787.2,585.9 L776.2,590.3 L768.6,592.5Z M768.6,649.3 L778.4,642.8 L789.3,638.4 L802.5,631.8 L811.2,625.3 L816.7,636.2 L806.8,645.0 L798.1,651.5 L793.7,664.6 L782.8,669.0 L768.6,672.3Z M802.5,605.6 L815.6,602.3 L830.9,597.9 L830.9,602.3 L820.0,605.6 L811.2,610.0Z M1380.9,439.3 L1391.8,435.0 L1404.9,432.8 L1418.1,430.6 L1426.8,426.2 L1435.6,421.8 L1439.9,413.1 L1446.5,404.3 L1450.9,408.7 L1448.7,417.5 L1455.2,426.2 L1461.8,432.8 L1448.7,437.2 L1435.6,435.0 L1426.8,441.5 L1413.7,443.7 L1400.6,448.1 L1387.4,452.5 L1380.9,452.5Z" fill="none" stroke="#F8E300" stroke-width="4.8" stroke-linejoin="round"/>
<path d="M769.2,534.6 L789.4,539.9 L806.9,534.6 L825.7,526.5 L833.8,515.7 L844.6,507.6 L860.7,496.9 L871.5,483.4 L876.9,478.0 L893.0,480.7 L906.5,486.1 L919.9,480.7 L933.4,478.0 L946.8,486.1 L963.0,483.4 L979.1,486.1 L995.3,491.5 L1008.7,486.1 L1016.8,492.0 L1030.3,495.8 L1043.7,500.9 L1059.9,496.3 L1076.0,494.7 L1089.5,493.4 L1090.8,491.5 L1101.5,496.9 L1112.3,505.0 L1125.7,507.6 L1136.5,499.6 L1147.3,494.2 L1152.7,491.5 L1160.7,499.6 L1171.5,505.0 L1182.3,507.6 L1187.6,515.7 L1193.0,523.8 L1198.4,513.0 L1209.2,507.6 L1219.9,513.0 L1222.6,523.8 L1214.6,534.6 L1206.5,539.9 L1195.7,550.7 L1187.6,558.8 L1168.8,560.9 L1150.0,560.1 L1133.8,560.1 L1119.0,559.8 L1109.9,551.2 L1103.4,540.2 L1092.4,533.7 L1081.6,529.4 L1073.3,542.6 L1059.9,539.9 L1057.2,542.6 L1049.1,545.3 L1038.3,553.4 L1022.2,556.1 L1003.4,558.8 L984.5,556.1 L968.4,558.8 L952.2,558.8 L946.8,550.7 L944.2,534.6 L933.4,537.2 L925.3,531.9 L914.6,537.2 L898.4,539.9 L887.6,529.2 L879.6,523.8 L868.8,531.9 L847.3,539.9 L828.4,546.7 L806.9,549.4 L789.4,551.2 L769.2,552.0Z M1225.3,558.8 L1241.5,550.7 L1254.9,539.9 L1268.4,529.2 L1284.5,515.7 L1295.3,505.0 L1306.0,494.2 L1314.1,488.8 L1322.2,491.5 L1327.6,502.3 L1316.8,513.0 L1308.7,526.5 L1295.3,537.2 L1284.5,545.3 L1268.4,556.1 L1252.2,561.5 L1236.1,564.2Z M1308.7,488.8 L1316.8,480.7 L1330.3,480.7 L1343.7,478.0 L1351.8,483.4 L1357.2,491.5 L1357.2,507.6 L1349.1,518.4 L1338.3,518.4 L1330.3,513.0 L1322.2,515.7 L1314.1,507.6Z M1287.2,467.3 L1295.3,461.9 L1308.7,456.5 L1322.2,453.8 L1335.7,455.2 L1349.1,453.8 L1349.1,457.9 L1335.7,459.7 L1322.2,460.5 L1308.7,463.2 L1295.3,468.6Z M1365.3,448.4 L1373.3,443.1 L1381.4,440.4 L1384.1,445.7 L1376.0,451.1 L1367.9,453.8Z M1351.8,480.7 L1359.9,475.3 L1362.6,480.7 L1357.2,488.8Z M1130.9,564.1 L1198.7,564.1 L1222.7,564.1 L1214.0,583.7 L1198.7,603.9 L1133.1,603.9 L1128.7,594.7 L1126.5,579.4Z M1054.3,577.2 L1063.1,573.2 L1074.0,575.0 L1082.8,583.7 L1085.0,594.7 L1078.4,603.0 L1063.1,603.4 L1044.5,603.4 L1047.8,590.3Z M820.4,604.4 L832.5,600.4 L844.6,589.6 L860.7,584.2 L868.8,573.5 L860.7,565.4 L871.5,568.1 L887.6,573.5 L898.4,565.4 L909.2,568.1 L919.9,570.8 L930.7,578.8 L941.5,584.2 L948.2,588.3 L954.9,592.3 L968.4,598.2 L984.5,598.2 L995.3,593.4 L1008.7,588.0 L1016.8,580.2 L1027.6,574.8 L1035.7,569.4 L1045.1,570.8 L1042.4,581.5 L1038.3,589.6 L1033.0,605.7 L1030.3,608.4 L1022.2,613.8 L1011.4,611.1 L1003.4,621.9 L995.3,635.3 L984.5,638.0 L973.8,640.7 L965.7,635.3 L957.6,627.3 L949.5,632.7 L941.5,630.0 L930.7,624.6 L919.9,627.3 L909.2,630.0 L898.4,632.7 L887.6,630.0 L876.9,627.3 L868.8,621.9 L858.0,619.2 L850.0,611.1 L841.9,605.7 L832.5,604.4Z M968.4,578.8 L975.1,576.1 L985.9,577.2 L986.7,582.1 L979.1,584.2 L969.7,583.1Z M1034.7,605.6 L1080.6,605.6 L1079.5,636.2 L1076.2,639.5 L1071.8,631.8 L1067.5,627.5 L1064.2,634.0 L1063.1,642.8 L1054.3,649.3 L1045.6,645.0 L1042.3,634.0 L1036.9,625.3 L1031.4,616.5Z M1081.7,605.6 L1133.1,605.6 L1139.6,623.1 L1142.9,642.8 L1144.0,659.2 L1137.4,661.4 L1130.9,655.5 L1124.3,651.1 L1120.0,644.5 L1111.2,640.2 L1102.5,640.2 L1093.7,644.5 L1085.0,640.2 L1081.7,631.8Z M1113.8,672.7 L1120.0,668.4 L1128.3,672.7 L1127.2,681.0 L1117.1,681.7Z M1135.7,605.6 L1152.8,605.6 L1154.9,618.7 L1168.1,623.1 L1181.2,614.3 L1184.5,605.6 L1189.9,612.2 L1198.7,626.4 L1208.5,631.8 L1214.0,627.5 L1212.2,634.0 L1198.7,635.8 L1187.7,639.5 L1176.8,643.9 L1168.1,648.2 L1154.9,652.6 L1146.2,655.9 L1143.6,642.8 L1140.7,623.1Z M1184.1,607.5 L1197.2,600.9 L1216.9,599.8 L1230.0,600.9 L1236.5,607.5 L1260.6,609.7 L1265.0,616.2 L1256.2,618.4 L1247.5,614.0 L1238.7,618.4 L1230.0,622.8 L1221.2,627.2 L1212.5,631.5 L1203.7,625.0 L1195.0,616.2Z M1225.6,594.3 L1238.7,592.2 L1251.8,590.0 L1262.8,592.2 L1273.7,585.6 L1278.1,579.0 L1291.2,581.2 L1304.3,576.9 L1317.4,572.5 L1330.6,570.3 L1334.9,576.9 L1330.6,585.6 L1321.8,592.2 L1313.1,603.1 L1306.5,609.7 L1300.0,616.2 L1291.2,611.8 L1289.0,604.2 L1279.2,598.7 L1269.3,605.3 L1262.8,609.7 L1236.5,607.5 L1230.0,601.3Z M1225.6,660.0 L1236.5,662.1 L1251.8,660.0 L1260.6,653.4 L1267.2,651.2 L1256.2,664.3 L1243.1,673.1 L1234.3,677.4 L1227.8,668.7Z M895.7,648.8 L903.8,651.5 L914.6,662.3 L925.3,667.6 L936.1,673.0 L946.8,675.7 L954.9,678.4 L963.0,667.6 L971.1,662.3 L979.1,667.6 L989.9,673.0 L1000.7,665.0 L1014.1,662.3 L1019.5,667.6 L1020.5,658.1 L1023.7,666.8 L1032.5,671.2 L1039.0,675.6 L1043.4,688.7 L1054.3,692.0 L1067.5,686.5 L1076.2,687.6 L1085.0,689.1 L1093.7,693.5 L1102.5,691.3 L1111.2,686.9 L1122.1,686.9 L1133.1,684.8 L1144.0,682.6 L1154.9,684.8 L1163.7,680.4 L1172.4,676.0 L1183.4,674.9 L1194.3,671.6 L1207.4,667.3 L1218.4,661.8 L1229.3,660.3 L1227.1,680.0 L1222.7,704.0 L1216.2,711.7 L1203.0,713.8 L1187.7,712.8 L1176.8,708.4 L1161.5,712.8 L1148.4,709.5 L1141.8,708.4 L1133.1,712.8 L1120.0,714.9 L1102.5,712.8 L1093.7,708.4 L1089.3,712.8 L1074.0,714.9 L1063.1,712.8 L1052.2,714.9 L1045.6,708.4 L1046.4,713.4 L1033.0,716.1 L1022.2,713.4 L1006.0,716.1 L989.9,718.8 L973.8,716.1 L963.0,713.4 L952.2,716.1 L936.1,710.7 L919.9,713.4 L909.2,710.7 L906.5,699.9 L895.7,694.6 L898.4,678.4 L893.0,662.3Z M919.9,743.0 L930.7,734.9 L941.5,734.9 L952.2,740.3 L941.5,748.4 L930.7,756.4 L919.9,767.2 L906.5,775.3 L893.0,786.0 L883.6,794.1 L887.6,775.3 L898.4,764.5 L909.2,753.8Z M1022.2,732.2 L1033.0,726.8 L1049.1,729.5 L1059.9,737.6 L1062.6,753.8 L1049.1,759.1 L1033.0,759.1 L1022.2,753.8 L1016.8,743.0Z M1091.5,710.5 L1107.6,710.5 L1129.2,714.0 L1126.5,723.4 L1107.6,726.1 L1092.8,727.5Z M1193.8,747.6 L1209.9,745.0 L1220.7,728.8 L1224.7,720.7 L1228.7,742.3 L1236.8,766.5 L1231.4,769.2 L1220.7,771.9 L1209.9,779.9 L1201.8,785.3 L1195.1,779.9 L1195.1,763.8Z M1207.2,823.0 L1215.3,828.4 L1228.7,831.1 L1242.2,825.7 L1251.6,823.0 L1253.0,844.5 L1247.6,855.3 L1236.8,863.4 L1228.7,860.7 L1218.0,844.5 L1212.6,831.1Z M768.6,566.2 L793.7,566.2 L802.5,570.6 L793.7,577.2 L787.2,585.9 L776.2,590.3 L768.6,592.5Z M768.6,649.3 L778.4,642.8 L789.3,638.4 L802.5,631.8 L811.2,625.3 L816.7,636.2 L806.8,645.0 L798.1,651.5 L793.7,664.6 L782.8,669.0 L768.6,672.3Z M802.5,605.6 L815.6,602.3 L830.9,597.9 L830.9,602.3 L820.0,605.6 L811.2,610.0Z M1380.9,439.3 L1391.8,435.0 L1404.9,432.8 L1418.1,430.6 L1426.8,426.2 L1435.6,421.8 L1439.9,413.1 L1446.5,404.3 L1450.9,408.7 L1448.7,417.5 L1455.2,426.2 L1461.8,432.8 L1448.7,437.2 L1435.6,435.0 L1426.8,441.5 L1413.7,443.7 L1400.6,448.1 L1387.4,452.5 L1380.9,452.5Z" fill="none" stroke="#EFA700" stroke-width="3.3" stroke-linejoin="round"/>
<path d="M769.2,534.6 L789.4,539.9 L806.9,534.6 L825.7,526.5 L833.8,515.7 L844.6,507.6 L860.7,496.9 L871.5,483.4 L876.9,478.0 L893.0,480.7 L906.5,486.1 L919.9,480.7 L933.4,478.0 L946.8,486.1 L963.0,483.4 L979.1,486.1 L995.3,491.5 L1008.7,486.1 L1016.8,492.0 L1030.3,495.8 L1043.7,500.9 L1059.9,496.3 L1076.0,494.7 L1089.5,493.4 L1090.8,491.5 L1101.5,496.9 L1112.3,505.0 L1125.7,507.6 L1136.5,499.6 L1147.3,494.2 L1152.7,491.5 L1160.7,499.6 L1171.5,505.0 L1182.3,507.6 L1187.6,515.7 L1193.0,523.8 L1198.4,513.0 L1209.2,507.6 L1219.9,513.0 L1222.6,523.8 L1214.6,534.6 L1206.5,539.9 L1195.7,550.7 L1187.6,558.8 L1168.8,560.9 L1150.0,560.1 L1133.8,560.1 L1119.0,559.8 L1109.9,551.2 L1103.4,540.2 L1092.4,533.7 L1081.6,529.4 L1073.3,542.6 L1059.9,539.9 L1057.2,542.6 L1049.1,545.3 L1038.3,553.4 L1022.2,556.1 L1003.4,558.8 L984.5,556.1 L968.4,558.8 L952.2,558.8 L946.8,550.7 L944.2,534.6 L933.4,537.2 L925.3,531.9 L914.6,537.2 L898.4,539.9 L887.6,529.2 L879.6,523.8 L868.8,531.9 L847.3,539.9 L828.4,546.7 L806.9,549.4 L789.4,551.2 L769.2,552.0Z M1225.3,558.8 L1241.5,550.7 L1254.9,539.9 L1268.4,529.2 L1284.5,515.7 L1295.3,505.0 L1306.0,494.2 L1314.1,488.8 L1322.2,491.5 L1327.6,502.3 L1316.8,513.0 L1308.7,526.5 L1295.3,537.2 L1284.5,545.3 L1268.4,556.1 L1252.2,561.5 L1236.1,564.2Z M1308.7,488.8 L1316.8,480.7 L1330.3,480.7 L1343.7,478.0 L1351.8,483.4 L1357.2,491.5 L1357.2,507.6 L1349.1,518.4 L1338.3,518.4 L1330.3,513.0 L1322.2,515.7 L1314.1,507.6Z M1287.2,467.3 L1295.3,461.9 L1308.7,456.5 L1322.2,453.8 L1335.7,455.2 L1349.1,453.8 L1349.1,457.9 L1335.7,459.7 L1322.2,460.5 L1308.7,463.2 L1295.3,468.6Z M1365.3,448.4 L1373.3,443.1 L1381.4,440.4 L1384.1,445.7 L1376.0,451.1 L1367.9,453.8Z M1351.8,480.7 L1359.9,475.3 L1362.6,480.7 L1357.2,488.8Z M1130.9,564.1 L1198.7,564.1 L1222.7,564.1 L1214.0,583.7 L1198.7,603.9 L1133.1,603.9 L1128.7,594.7 L1126.5,579.4Z M1054.3,577.2 L1063.1,573.2 L1074.0,575.0 L1082.8,583.7 L1085.0,594.7 L1078.4,603.0 L1063.1,603.4 L1044.5,603.4 L1047.8,590.3Z M820.4,604.4 L832.5,600.4 L844.6,589.6 L860.7,584.2 L868.8,573.5 L860.7,565.4 L871.5,568.1 L887.6,573.5 L898.4,565.4 L909.2,568.1 L919.9,570.8 L930.7,578.8 L941.5,584.2 L948.2,588.3 L954.9,592.3 L968.4,598.2 L984.5,598.2 L995.3,593.4 L1008.7,588.0 L1016.8,580.2 L1027.6,574.8 L1035.7,569.4 L1045.1,570.8 L1042.4,581.5 L1038.3,589.6 L1033.0,605.7 L1030.3,608.4 L1022.2,613.8 L1011.4,611.1 L1003.4,621.9 L995.3,635.3 L984.5,638.0 L973.8,640.7 L965.7,635.3 L957.6,627.3 L949.5,632.7 L941.5,630.0 L930.7,624.6 L919.9,627.3 L909.2,630.0 L898.4,632.7 L887.6,630.0 L876.9,627.3 L868.8,621.9 L858.0,619.2 L850.0,611.1 L841.9,605.7 L832.5,604.4Z M968.4,578.8 L975.1,576.1 L985.9,577.2 L986.7,582.1 L979.1,584.2 L969.7,583.1Z M1034.7,605.6 L1080.6,605.6 L1079.5,636.2 L1076.2,639.5 L1071.8,631.8 L1067.5,627.5 L1064.2,634.0 L1063.1,642.8 L1054.3,649.3 L1045.6,645.0 L1042.3,634.0 L1036.9,625.3 L1031.4,616.5Z M1081.7,605.6 L1133.1,605.6 L1139.6,623.1 L1142.9,642.8 L1144.0,659.2 L1137.4,661.4 L1130.9,655.5 L1124.3,651.1 L1120.0,644.5 L1111.2,640.2 L1102.5,640.2 L1093.7,644.5 L1085.0,640.2 L1081.7,631.8Z M1113.8,672.7 L1120.0,668.4 L1128.3,672.7 L1127.2,681.0 L1117.1,681.7Z M1135.7,605.6 L1152.8,605.6 L1154.9,618.7 L1168.1,623.1 L1181.2,614.3 L1184.5,605.6 L1189.9,612.2 L1198.7,626.4 L1208.5,631.8 L1214.0,627.5 L1212.2,634.0 L1198.7,635.8 L1187.7,639.5 L1176.8,643.9 L1168.1,648.2 L1154.9,652.6 L1146.2,655.9 L1143.6,642.8 L1140.7,623.1Z M1184.1,607.5 L1197.2,600.9 L1216.9,599.8 L1230.0,600.9 L1236.5,607.5 L1260.6,609.7 L1265.0,616.2 L1256.2,618.4 L1247.5,614.0 L1238.7,618.4 L1230.0,622.8 L1221.2,627.2 L1212.5,631.5 L1203.7,625.0 L1195.0,616.2Z M1225.6,594.3 L1238.7,592.2 L1251.8,590.0 L1262.8,592.2 L1273.7,585.6 L1278.1,579.0 L1291.2,581.2 L1304.3,576.9 L1317.4,572.5 L1330.6,570.3 L1334.9,576.9 L1330.6,585.6 L1321.8,592.2 L1313.1,603.1 L1306.5,609.7 L1300.0,616.2 L1291.2,611.8 L1289.0,604.2 L1279.2,598.7 L1269.3,605.3 L1262.8,609.7 L1236.5,607.5 L1230.0,601.3Z M1225.6,660.0 L1236.5,662.1 L1251.8,660.0 L1260.6,653.4 L1267.2,651.2 L1256.2,664.3 L1243.1,673.1 L1234.3,677.4 L1227.8,668.7Z M895.7,648.8 L903.8,651.5 L914.6,662.3 L925.3,667.6 L936.1,673.0 L946.8,675.7 L954.9,678.4 L963.0,667.6 L971.1,662.3 L979.1,667.6 L989.9,673.0 L1000.7,665.0 L1014.1,662.3 L1019.5,667.6 L1020.5,658.1 L1023.7,666.8 L1032.5,671.2 L1039.0,675.6 L1043.4,688.7 L1054.3,692.0 L1067.5,686.5 L1076.2,687.6 L1085.0,689.1 L1093.7,693.5 L1102.5,691.3 L1111.2,686.9 L1122.1,686.9 L1133.1,684.8 L1144.0,682.6 L1154.9,684.8 L1163.7,680.4 L1172.4,676.0 L1183.4,674.9 L1194.3,671.6 L1207.4,667.3 L1218.4,661.8 L1229.3,660.3 L1227.1,680.0 L1222.7,704.0 L1216.2,711.7 L1203.0,713.8 L1187.7,712.8 L1176.8,708.4 L1161.5,712.8 L1148.4,709.5 L1141.8,708.4 L1133.1,712.8 L1120.0,714.9 L1102.5,712.8 L1093.7,708.4 L1089.3,712.8 L1074.0,714.9 L1063.1,712.8 L1052.2,714.9 L1045.6,708.4 L1046.4,713.4 L1033.0,716.1 L1022.2,713.4 L1006.0,716.1 L989.9,718.8 L973.8,716.1 L963.0,713.4 L952.2,716.1 L936.1,710.7 L919.9,713.4 L909.2,710.7 L906.5,699.9 L895.7,694.6 L898.4,678.4 L893.0,662.3Z M919.9,743.0 L930.7,734.9 L941.5,734.9 L952.2,740.3 L941.5,748.4 L930.7,756.4 L919.9,767.2 L906.5,775.3 L893.0,786.0 L883.6,794.1 L887.6,775.3 L898.4,764.5 L909.2,753.8Z M1022.2,732.2 L1033.0,726.8 L1049.1,729.5 L1059.9,737.6 L1062.6,753.8 L1049.1,759.1 L1033.0,759.1 L1022.2,753.8 L1016.8,743.0Z M1091.5,710.5 L1107.6,710.5 L1129.2,714.0 L1126.5,723.4 L1107.6,726.1 L1092.8,727.5Z M1193.8,747.6 L1209.9,745.0 L1220.7,728.8 L1224.7,720.7 L1228.7,742.3 L1236.8,766.5 L1231.4,769.2 L1220.7,771.9 L1209.9,779.9 L1201.8,785.3 L1195.1,779.9 L1195.1,763.8Z M1207.2,823.0 L1215.3,828.4 L1228.7,831.1 L1242.2,825.7 L1251.6,823.0 L1253.0,844.5 L1247.6,855.3 L1236.8,863.4 L1228.7,860.7 L1218.0,844.5 L1212.6,831.1Z M768.6,566.2 L793.7,566.2 L802.5,570.6 L793.7,577.2 L787.2,585.9 L776.2,590.3 L768.6,592.5Z M768.6,649.3 L778.4,642.8 L789.3,638.4 L802.5,631.8 L811.2,625.3 L816.7,636.2 L806.8,645.0 L798.1,651.5 L793.7,664.6 L782.8,669.0 L768.6,672.3Z M802.5,605.6 L815.6,602.3 L830.9,597.9 L830.9,602.3 L820.0,605.6 L811.2,610.0Z M1380.9,439.3 L1391.8,435.0 L1404.9,432.8 L1418.1,430.6 L1426.8,426.2 L1435.6,421.8 L1439.9,413.1 L1446.5,404.3 L1450.9,408.7 L1448.7,417.5 L1455.2,426.2 L1461.8,432.8 L1448.7,437.2 L1435.6,435.0 L1426.8,441.5 L1413.7,443.7 L1400.6,448.1 L1387.4,452.5 L1380.9,452.5Z" fill="none" stroke="#E66F00" stroke-width="1.8" stroke-linejoin="round"/>
</g>
<g filter="url(#rag)">
<path d="M769.2,534.6 L789.4,539.9 L806.9,534.6 L825.7,526.5 L833.8,515.7 L844.6,507.6 L860.7,496.9 L871.5,483.4 L876.9,478.0 L893.0,480.7 L906.5,486.1 L919.9,480.7 L933.4,478.0 L946.8,486.1 L963.0,483.4 L979.1,486.1 L995.3,491.5 L1008.7,486.1 L1016.8,492.0 L1030.3,495.8 L1043.7,500.9 L1059.9,496.3 L1076.0,494.7 L1089.5,493.4 L1090.8,491.5 L1101.5,496.9 L1112.3,505.0 L1125.7,507.6 L1136.5,499.6 L1147.3,494.2 L1152.7,491.5 L1160.7,499.6 L1171.5,505.0 L1182.3,507.6 L1187.6,515.7 L1193.0,523.8 L1198.4,513.0 L1209.2,507.6 L1219.9,513.0 L1222.6,523.8 L1214.6,534.6 L1206.5,539.9 L1195.7,550.7 L1187.6,558.8 L1168.8,560.9 L1150.0,560.1 L1133.8,560.1 L1119.0,559.8 L1109.9,551.2 L1103.4,540.2 L1092.4,533.7 L1081.6,529.4 L1073.3,542.6 L1059.9,539.9 L1057.2,542.6 L1049.1,545.3 L1038.3,553.4 L1022.2,556.1 L1003.4,558.8 L984.5,556.1 L968.4,558.8 L952.2,558.8 L946.8,550.7 L944.2,534.6 L933.4,537.2 L925.3,531.9 L914.6,537.2 L898.4,539.9 L887.6,529.2 L879.6,523.8 L868.8,531.9 L847.3,539.9 L828.4,546.7 L806.9,549.4 L789.4,551.2 L769.2,552.0Z M1225.3,558.8 L1241.5,550.7 L1254.9,539.9 L1268.4,529.2 L1284.5,515.7 L1295.3,505.0 L1306.0,494.2 L1314.1,488.8 L1322.2,491.5 L1327.6,502.3 L1316.8,513.0 L1308.7,526.5 L1295.3,537.2 L1284.5,545.3 L1268.4,556.1 L1252.2,561.5 L1236.1,564.2Z M1308.7,488.8 L1316.8,480.7 L1330.3,480.7 L1343.7,478.0 L1351.8,483.4 L1357.2,491.5 L1357.2,507.6 L1349.1,518.4 L1338.3,518.4 L1330.3,513.0 L1322.2,515.7 L1314.1,507.6Z M1287.2,467.3 L1295.3,461.9 L1308.7,456.5 L1322.2,453.8 L1335.7,455.2 L1349.1,453.8 L1349.1,457.9 L1335.7,459.7 L1322.2,460.5 L1308.7,463.2 L1295.3,468.6Z M1365.3,448.4 L1373.3,443.1 L1381.4,440.4 L1384.1,445.7 L1376.0,451.1 L1367.9,453.8Z M1351.8,480.7 L1359.9,475.3 L1362.6,480.7 L1357.2,488.8Z M1130.9,564.1 L1198.7,564.1 L1222.7,564.1 L1214.0,583.7 L1198.7,603.9 L1133.1,603.9 L1128.7,594.7 L1126.5,579.4Z M1054.3,577.2 L1063.1,573.2 L1074.0,575.0 L1082.8,583.7 L1085.0,594.7 L1078.4,603.0 L1063.1,603.4 L1044.5,603.4 L1047.8,590.3Z M820.4,604.4 L832.5,600.4 L844.6,589.6 L860.7,584.2 L868.8,573.5 L860.7,565.4 L871.5,568.1 L887.6,573.5 L898.4,565.4 L909.2,568.1 L919.9,570.8 L930.7,578.8 L941.5,584.2 L948.2,588.3 L954.9,592.3 L968.4,598.2 L984.5,598.2 L995.3,593.4 L1008.7,588.0 L1016.8,580.2 L1027.6,574.8 L1035.7,569.4 L1045.1,570.8 L1042.4,581.5 L1038.3,589.6 L1033.0,605.7 L1030.3,608.4 L1022.2,613.8 L1011.4,611.1 L1003.4,621.9 L995.3,635.3 L984.5,638.0 L973.8,640.7 L965.7,635.3 L957.6,627.3 L949.5,632.7 L941.5,630.0 L930.7,624.6 L919.9,627.3 L909.2,630.0 L898.4,632.7 L887.6,630.0 L876.9,627.3 L868.8,621.9 L858.0,619.2 L850.0,611.1 L841.9,605.7 L832.5,604.4Z M968.4,578.8 L975.1,576.1 L985.9,577.2 L986.7,582.1 L979.1,584.2 L969.7,583.1Z M1034.7,605.6 L1080.6,605.6 L1079.5,636.2 L1076.2,639.5 L1071.8,631.8 L1067.5,627.5 L1064.2,634.0 L1063.1,642.8 L1054.3,649.3 L1045.6,645.0 L1042.3,634.0 L1036.9,625.3 L1031.4,616.5Z M1081.7,605.6 L1133.1,605.6 L1139.6,623.1 L1142.9,642.8 L1144.0,659.2 L1137.4,661.4 L1130.9,655.5 L1124.3,651.1 L1120.0,644.5 L1111.2,640.2 L1102.5,640.2 L1093.7,644.5 L1085.0,640.2 L1081.7,631.8Z M1113.8,672.7 L1120.0,668.4 L1128.3,672.7 L1127.2,681.0 L1117.1,681.7Z M1135.7,605.6 L1152.8,605.6 L1154.9,618.7 L1168.1,623.1 L1181.2,614.3 L1184.5,605.6 L1189.9,612.2 L1198.7,626.4 L1208.5,631.8 L1214.0,627.5 L1212.2,634.0 L1198.7,635.8 L1187.7,639.5 L1176.8,643.9 L1168.1,648.2 L1154.9,652.6 L1146.2,655.9 L1143.6,642.8 L1140.7,623.1Z M1184.1,607.5 L1197.2,600.9 L1216.9,599.8 L1230.0,600.9 L1236.5,607.5 L1260.6,609.7 L1265.0,616.2 L1256.2,618.4 L1247.5,614.0 L1238.7,618.4 L1230.0,622.8 L1221.2,627.2 L1212.5,631.5 L1203.7,625.0 L1195.0,616.2Z M1225.6,594.3 L1238.7,592.2 L1251.8,590.0 L1262.8,592.2 L1273.7,585.6 L1278.1,579.0 L1291.2,581.2 L1304.3,576.9 L1317.4,572.5 L1330.6,570.3 L1334.9,576.9 L1330.6,585.6 L1321.8,592.2 L1313.1,603.1 L1306.5,609.7 L1300.0,616.2 L1291.2,611.8 L1289.0,604.2 L1279.2,598.7 L1269.3,605.3 L1262.8,609.7 L1236.5,607.5 L1230.0,601.3Z M1225.6,660.0 L1236.5,662.1 L1251.8,660.0 L1260.6,653.4 L1267.2,651.2 L1256.2,664.3 L1243.1,673.1 L1234.3,677.4 L1227.8,668.7Z M895.7,648.8 L903.8,651.5 L914.6,662.3 L925.3,667.6 L936.1,673.0 L946.8,675.7 L954.9,678.4 L963.0,667.6 L971.1,662.3 L979.1,667.6 L989.9,673.0 L1000.7,665.0 L1014.1,662.3 L1019.5,667.6 L1020.5,658.1 L1023.7,666.8 L1032.5,671.2 L1039.0,675.6 L1043.4,688.7 L1054.3,692.0 L1067.5,686.5 L1076.2,687.6 L1085.0,689.1 L1093.7,693.5 L1102.5,691.3 L1111.2,686.9 L1122.1,686.9 L1133.1,684.8 L1144.0,682.6 L1154.9,684.8 L1163.7,680.4 L1172.4,676.0 L1183.4,674.9 L1194.3,671.6 L1207.4,667.3 L1218.4,661.8 L1229.3,660.3 L1227.1,680.0 L1222.7,704.0 L1216.2,711.7 L1203.0,713.8 L1187.7,712.8 L1176.8,708.4 L1161.5,712.8 L1148.4,709.5 L1141.8,708.4 L1133.1,712.8 L1120.0,714.9 L1102.5,712.8 L1093.7,708.4 L1089.3,712.8 L1074.0,714.9 L1063.1,712.8 L1052.2,714.9 L1045.6,708.4 L1046.4,713.4 L1033.0,716.1 L1022.2,713.4 L1006.0,716.1 L989.9,718.8 L973.8,716.1 L963.0,713.4 L952.2,716.1 L936.1,710.7 L919.9,713.4 L909.2,710.7 L906.5,699.9 L895.7,694.6 L898.4,678.4 L893.0,662.3Z M919.9,743.0 L930.7,734.9 L941.5,734.9 L952.2,740.3 L941.5,748.4 L930.7,756.4 L919.9,767.2 L906.5,775.3 L893.0,786.0 L883.6,794.1 L887.6,775.3 L898.4,764.5 L909.2,753.8Z M1022.2,732.2 L1033.0,726.8 L1049.1,729.5 L1059.9,737.6 L1062.6,753.8 L1049.1,759.1 L1033.0,759.1 L1022.2,753.8 L1016.8,743.0Z M1091.5,710.5 L1107.6,710.5 L1129.2,714.0 L1126.5,723.4 L1107.6,726.1 L1092.8,727.5Z M1193.8,747.6 L1209.9,745.0 L1220.7,728.8 L1224.7,720.7 L1228.7,742.3 L1236.8,766.5 L1231.4,769.2 L1220.7,771.9 L1209.9,779.9 L1201.8,785.3 L1195.1,779.9 L1195.1,763.8Z M1207.2,823.0 L1215.3,828.4 L1228.7,831.1 L1242.2,825.7 L1251.6,823.0 L1253.0,844.5 L1247.6,855.3 L1236.8,863.4 L1228.7,860.7 L1218.0,844.5 L1212.6,831.1Z M768.6,566.2 L793.7,566.2 L802.5,570.6 L793.7,577.2 L787.2,585.9 L776.2,590.3 L768.6,592.5Z M768.6,649.3 L778.4,642.8 L789.3,638.4 L802.5,631.8 L811.2,625.3 L816.7,636.2 L806.8,645.0 L798.1,651.5 L793.7,664.6 L782.8,669.0 L768.6,672.3Z M802.5,605.6 L815.6,602.3 L830.9,597.9 L830.9,602.3 L820.0,605.6 L811.2,610.0Z M1380.9,439.3 L1391.8,435.0 L1404.9,432.8 L1418.1,430.6 L1426.8,426.2 L1435.6,421.8 L1439.9,413.1 L1446.5,404.3 L1450.9,408.7 L1448.7,417.5 L1455.2,426.2 L1461.8,432.8 L1448.7,437.2 L1435.6,435.0 L1426.8,441.5 L1413.7,443.7 L1400.6,448.1 L1387.4,452.5 L1380.9,452.5Z" fill="#CC0000"/>
<path d="M769.2,534.6 L789.4,539.9 L806.9,534.6 L825.7,526.5 L833.8,515.7 L844.6,507.6 L860.7,496.9 L871.5,483.4 L876.9,478.0 L893.0,480.7 L906.5,486.1 L919.9,480.7 L933.4,478.0 L946.8,486.1 L963.0,483.4 L979.1,486.1 L995.3,491.5 L1008.7,486.1 L1016.8,492.0 L1030.3,495.8 L1043.7,500.9 L1059.9,496.3 L1076.0,494.7 L1089.5,493.4 L1090.8,491.5 L1101.5,496.9 L1112.3,505.0 L1125.7,507.6 L1136.5,499.6 L1147.3,494.2 L1152.7,491.5 L1160.7,499.6 L1171.5,505.0 L1182.3,507.6 L1187.6,515.7 L1193.0,523.8 L1198.4,513.0 L1209.2,507.6 L1219.9,513.0 L1222.6,523.8 L1214.6,534.6 L1206.5,539.9 L1195.7,550.7 L1187.6,558.8 L1168.8,560.9 L1150.0,560.1 L1133.8,560.1 L1119.0,559.8 L1109.9,551.2 L1103.4,540.2 L1092.4,533.7 L1081.6,529.4 L1073.3,542.6 L1059.9,539.9 L1057.2,542.6 L1049.1,545.3 L1038.3,553.4 L1022.2,556.1 L1003.4,558.8 L984.5,556.1 L968.4,558.8 L952.2,558.8 L946.8,550.7 L944.2,534.6 L933.4,537.2 L925.3,531.9 L914.6,537.2 L898.4,539.9 L887.6,529.2 L879.6,523.8 L868.8,531.9 L847.3,539.9 L828.4,546.7 L806.9,549.4 L789.4,551.2 L769.2,552.0Z M1225.3,558.8 L1241.5,550.7 L1254.9,539.9 L1268.4,529.2 L1284.5,515.7 L1295.3,505.0 L1306.0,494.2 L1314.1,488.8 L1322.2,491.5 L1327.6,502.3 L1316.8,513.0 L1308.7,526.5 L1295.3,537.2 L1284.5,545.3 L1268.4,556.1 L1252.2,561.5 L1236.1,564.2Z M1308.7,488.8 L1316.8,480.7 L1330.3,480.7 L1343.7,478.0 L1351.8,483.4 L1357.2,491.5 L1357.2,507.6 L1349.1,518.4 L1338.3,518.4 L1330.3,513.0 L1322.2,515.7 L1314.1,507.6Z M1287.2,467.3 L1295.3,461.9 L1308.7,456.5 L1322.2,453.8 L1335.7,455.2 L1349.1,453.8 L1349.1,457.9 L1335.7,459.7 L1322.2,460.5 L1308.7,463.2 L1295.3,468.6Z M1365.3,448.4 L1373.3,443.1 L1381.4,440.4 L1384.1,445.7 L1376.0,451.1 L1367.9,453.8Z M1351.8,480.7 L1359.9,475.3 L1362.6,480.7 L1357.2,488.8Z M1130.9,564.1 L1198.7,564.1 L1222.7,564.1 L1214.0,583.7 L1198.7,603.9 L1133.1,603.9 L1128.7,594.7 L1126.5,579.4Z M1054.3,577.2 L1063.1,573.2 L1074.0,575.0 L1082.8,583.7 L1085.0,594.7 L1078.4,603.0 L1063.1,603.4 L1044.5,603.4 L1047.8,590.3Z M820.4,604.4 L832.5,600.4 L844.6,589.6 L860.7,584.2 L868.8,573.5 L860.7,565.4 L871.5,568.1 L887.6,573.5 L898.4,565.4 L909.2,568.1 L919.9,570.8 L930.7,578.8 L941.5,584.2 L948.2,588.3 L954.9,592.3 L968.4,598.2 L984.5,598.2 L995.3,593.4 L1008.7,588.0 L1016.8,580.2 L1027.6,574.8 L1035.7,569.4 L1045.1,570.8 L1042.4,581.5 L1038.3,589.6 L1033.0,605.7 L1030.3,608.4 L1022.2,613.8 L1011.4,611.1 L1003.4,621.9 L995.3,635.3 L984.5,638.0 L973.8,640.7 L965.7,635.3 L957.6,627.3 L949.5,632.7 L941.5,630.0 L930.7,624.6 L919.9,627.3 L909.2,630.0 L898.4,632.7 L887.6,630.0 L876.9,627.3 L868.8,621.9 L858.0,619.2 L850.0,611.1 L841.9,605.7 L832.5,604.4Z M968.4,578.8 L975.1,576.1 L985.9,577.2 L986.7,582.1 L979.1,584.2 L969.7,583.1Z M1034.7,605.6 L1080.6,605.6 L1079.5,636.2 L1076.2,639.5 L1071.8,631.8 L1067.5,627.5 L1064.2,634.0 L1063.1,642.8 L1054.3,649.3 L1045.6,645.0 L1042.3,634.0 L1036.9,625.3 L1031.4,616.5Z M1081.7,605.6 L1133.1,605.6 L1139.6,623.1 L1142.9,642.8 L1144.0,659.2 L1137.4,661.4 L1130.9,655.5 L1124.3,651.1 L1120.0,644.5 L1111.2,640.2 L1102.5,640.2 L1093.7,644.5 L1085.0,640.2 L1081.7,631.8Z M1113.8,672.7 L1120.0,668.4 L1128.3,672.7 L1127.2,681.0 L1117.1,681.7Z M1135.7,605.6 L1152.8,605.6 L1154.9,618.7 L1168.1,623.1 L1181.2,614.3 L1184.5,605.6 L1189.9,612.2 L1198.7,626.4 L1208.5,631.8 L1214.0,627.5 L1212.2,634.0 L1198.7,635.8 L1187.7,639.5 L1176.8,643.9 L1168.1,648.2 L1154.9,652.6 L1146.2,655.9 L1143.6,642.8 L1140.7,623.1Z M1184.1,607.5 L1197.2,600.9 L1216.9,599.8 L1230.0,600.9 L1236.5,607.5 L1260.6,609.7 L1265.0,616.2 L1256.2,618.4 L1247.5,614.0 L1238.7,618.4 L1230.0,622.8 L1221.2,627.2 L1212.5,631.5 L1203.7,625.0 L1195.0,616.2Z M1225.6,594.3 L1238.7,592.2 L1251.8,590.0 L1262.8,592.2 L1273.7,585.6 L1278.1,579.0 L1291.2,581.2 L1304.3,576.9 L1317.4,572.5 L1330.6,570.3 L1334.9,576.9 L1330.6,585.6 L1321.8,592.2 L1313.1,603.1 L1306.5,609.7 L1300.0,616.2 L1291.2,611.8 L1289.0,604.2 L1279.2,598.7 L1269.3,605.3 L1262.8,609.7 L1236.5,607.5 L1230.0,601.3Z M1225.6,660.0 L1236.5,662.1 L1251.8,660.0 L1260.6,653.4 L1267.2,651.2 L1256.2,664.3 L1243.1,673.1 L1234.3,677.4 L1227.8,668.7Z M895.7,648.8 L903.8,651.5 L914.6,662.3 L925.3,667.6 L936.1,673.0 L946.8,675.7 L954.9,678.4 L963.0,667.6 L971.1,662.3 L979.1,667.6 L989.9,673.0 L1000.7,665.0 L1014.1,662.3 L1019.5,667.6 L1020.5,658.1 L1023.7,666.8 L1032.5,671.2 L1039.0,675.6 L1043.4,688.7 L1054.3,692.0 L1067.5,686.5 L1076.2,687.6 L1085.0,689.1 L1093.7,693.5 L1102.5,691.3 L1111.2,686.9 L1122.1,686.9 L1133.1,684.8 L1144.0,682.6 L1154.9,684.8 L1163.7,680.4 L1172.4,676.0 L1183.4,674.9 L1194.3,671.6 L1207.4,667.3 L1218.4,661.8 L1229.3,660.3 L1227.1,680.0 L1222.7,704.0 L1216.2,711.7 L1203.0,713.8 L1187.7,712.8 L1176.8,708.4 L1161.5,712.8 L1148.4,709.5 L1141.8,708.4 L1133.1,712.8 L1120.0,714.9 L1102.5,712.8 L1093.7,708.4 L1089.3,712.8 L1074.0,714.9 L1063.1,712.8 L1052.2,714.9 L1045.6,708.4 L1046.4,713.4 L1033.0,716.1 L1022.2,713.4 L1006.0,716.1 L989.9,718.8 L973.8,716.1 L963.0,713.4 L952.2,716.1 L936.1,710.7 L919.9,713.4 L909.2,710.7 L906.5,699.9 L895.7,694.6 L898.4,678.4 L893.0,662.3Z M919.9,743.0 L930.7,734.9 L941.5,734.9 L952.2,740.3 L941.5,748.4 L930.7,756.4 L919.9,767.2 L906.5,775.3 L893.0,786.0 L883.6,794.1 L887.6,775.3 L898.4,764.5 L909.2,753.8Z M1022.2,732.2 L1033.0,726.8 L1049.1,729.5 L1059.9,737.6 L1062.6,753.8 L1049.1,759.1 L1033.0,759.1 L1022.2,753.8 L1016.8,743.0Z M1091.5,710.5 L1107.6,710.5 L1129.2,714.0 L1126.5,723.4 L1107.6,726.1 L1092.8,727.5Z M1193.8,747.6 L1209.9,745.0 L1220.7,728.8 L1224.7,720.7 L1228.7,742.3 L1236.8,766.5 L1231.4,769.2 L1220.7,771.9 L1209.9,779.9 L1201.8,785.3 L1195.1,779.9 L1195.1,763.8Z M1207.2,823.0 L1215.3,828.4 L1228.7,831.1 L1242.2,825.7 L1251.6,823.0 L1253.0,844.5 L1247.6,855.3 L1236.8,863.4 L1228.7,860.7 L1218.0,844.5 L1212.6,831.1Z M768.6,566.2 L793.7,566.2 L802.5,570.6 L793.7,577.2 L787.2,585.9 L776.2,590.3 L768.6,592.5Z M768.6,649.3 L778.4,642.8 L789.3,638.4 L802.5,631.8 L811.2,625.3 L816.7,636.2 L806.8,645.0 L798.1,651.5 L793.7,664.6 L782.8,669.0 L768.6,672.3Z M802.5,605.6 L815.6,602.3 L830.9,597.9 L830.9,602.3 L820.0,605.6 L811.2,610.0Z M1380.9,439.3 L1391.8,435.0 L1404.9,432.8 L1418.1,430.6 L1426.8,426.2 L1435.6,421.8 L1439.9,413.1 L1446.5,404.3 L1450.9,408.7 L1448.7,417.5 L1455.2,426.2 L1461.8,432.8 L1448.7,437.2 L1435.6,435.0 L1426.8,441.5 L1413.7,443.7 L1400.6,448.1 L1387.4,452.5 L1380.9,452.5Z" fill="#000" filter="url(#mott2)"/>
<path d="M1152.8,595.8 L1156.0,582.6 L1165.9,572.8 L1176.8,568.0 L1184.5,572.8 L1177.9,583.7 L1168.1,593.6 L1159.3,600.1Z" fill="#1A71D2"/>
<path d="M1181.0,508.6 L1193.1,507.5 L1198.5,514.0 L1196.4,522.8 L1186.5,523.9 L1180.0,517.3Z" fill="#1A71D2"/>
<path d="M1159.2,505.3 L1171.2,503.1 L1180.0,509.7 L1177.8,522.8 L1169.0,527.2 L1161.4,518.4Z" fill="#EFA700"/>
<path d="M1164.6,509.7 L1171.2,507.5 L1174.5,516.2 L1169.0,521.7 L1164.6,516.2Z" fill="#CC0000"/>
<path d="M1221.5,549.0 L1302.4,495.0 L1303.7,497.0 L1222.8,551.0Z" fill="#CC0000"/>
<path d="M1224.6,553.7 L1305.5,499.7 L1306.9,501.7 L1226.0,555.7Z" fill="#CC0000"/>
<path d="M1227.8,558.5 L1308.7,504.4 L1310.0,506.4 L1229.1,560.5Z" fill="#CC0000"/>
<path d="M1230.6,562.8 L1311.6,508.8 L1312.9,510.8 L1232.0,564.8Z" fill="#CC0000"/>
<path d="M1133.1,602.3 L1159.3,568.4 L1161.5,569.7 L1135.7,603.4Z" fill="#1A71D2"/>
<path d="M1148.4,602.3 L1174.6,568.4 L1176.8,569.7 L1151.0,603.4Z" fill="#1A71D2"/>
<path d="M1163.7,602.3 L1189.9,568.4 L1192.1,569.7 L1166.3,603.4Z" fill="#1A71D2"/>
<path d="M1179.0,602.3 L1205.2,568.4 L1207.4,569.7 L1181.6,603.4Z" fill="#1A71D2"/>
<path d="M1268.2,608.6 L1273.7,602.0 L1282.5,607.5 L1288.6,618.4 L1286.4,626.7 L1278.1,625.0 L1270.0,616.2Z" fill="#ABCF45"/>
<path d="M1247.5,629.3 L1256.2,622.8 L1265.0,627.2 L1267.2,638.1 L1258.4,644.6 L1249.7,640.3Z" fill="#7AAF75"/>
<path d="M1382.0,452.5 L1395.0,451.0 L1410.0,448.0 L1423.0,444.5 L1423.0,446.0 L1410.0,450.5 L1395.0,454.0 L1382.0,455.0Z" fill="#1A71D2"/>
<path d="M770.0,560.0 L770.0,440.0 L770.0,200.0 L1540.0,200.0 L1540.0,390.0 L1470.5,397.8 L1446.5,397.8 L1439.9,404.3 L1437.7,413.1 L1433.4,421.8 L1426.8,426.2 L1418.1,430.6 L1404.9,432.8 L1391.8,435.0 L1380.9,445.9 L1376.9,450.1 L1371.9,455.1 L1364.9,457.1 L1357.9,452.0 L1355.3,443.6 L1347.2,450.1 L1338.9,455.4 L1320.3,455.4 L1306.9,457.1 L1293.4,463.5 L1288.0,474.3 L1279.9,477.0 L1268.4,478.0 L1252.2,478.0 L1246.8,467.3 L1244.2,457.9 L1238.8,457.9 L1233.4,464.6 L1225.3,467.3 L1214.6,472.7 L1206.5,480.7 L1198.4,472.7 L1187.6,467.3 L1176.9,472.7 L1166.1,470.0 L1155.3,472.7 L1150.0,461.9 L1141.9,453.8 L1133.8,447.1 L1125.7,441.7 L1117.7,447.1 L1106.9,452.5 L1096.1,457.9 L1092.2,463.2 L1076.0,464.6 L1062.6,461.9 L1049.1,455.2 L1035.7,459.2 L1022.2,461.9 L1011.4,457.9 L1003.4,464.6 L995.3,471.3 L981.8,472.7 L968.4,467.3 L954.9,464.6 L941.5,467.3 L930.7,471.3 L919.9,476.7 L906.5,480.7 L901.1,484.0 L893.0,480.7 L876.9,478.0 L871.5,483.4 L860.7,496.9 L844.6,507.6 L833.8,515.7 L825.7,526.5 L806.9,534.6 L789.4,539.9 L789.4,551.2Z M1230.7,526.5 L1236.1,515.7 L1246.8,507.6 L1254.9,499.6 L1263.0,491.5 L1265.7,480.7 L1276.4,480.7 L1279.1,488.8 L1273.8,502.3 L1265.7,513.0 L1254.9,521.1 L1241.5,529.2Z M846.2,605.6 L854.9,614.3 L863.7,623.1 L874.6,629.7 L876.8,635.1 L890.0,650.0 L897.0,667.0 L895.0,694.0 L905.0,706.0 L916.0,712.0 L918.0,730.0 L912.0,745.0 L901.0,763.0 L893.0,779.0 L887.0,795.0 L892.0,815.0 L896.0,845.0 L875.0,845.0 L848.0,828.0 L838.0,801.0 L827.0,782.0 L819.0,766.0 L808.0,750.0 L790.0,742.0 L752.2,735.1 L734.7,714.9 L723.7,693.1 L745.6,684.3 L768.6,684.3 L768.6,672.3 L782.8,669.0 L793.7,664.6 L798.1,651.5 L806.8,645.0 L816.7,636.2 L813.4,627.5 L806.8,620.9 L802.5,610.0 L811.2,607.8 L820.0,603.4 L830.9,599.0Z" fill="#B3B3B3"/>
<path d="M770.0,471.0 L770.0,200.0 L1240.0,200.0 L1226.0,365.7 L1188.3,365.7 L1172.2,371.1 L1166.8,376.5 L1158.7,387.2 L1134.5,387.2 L1118.4,373.8 L1115.7,365.7 L1088.1,408.1 L1076.0,408.1 L1051.8,409.4 L1042.4,410.8 L1038.3,416.1 L1033.0,420.2 L1022.2,421.5 L1011.4,421.5 L1003.4,429.6 L992.6,432.3 L979.1,426.9 L968.4,424.2 L952.2,429.6 L941.5,440.4 L925.3,435.0 L917.2,426.9 L911.9,421.5 L906.5,426.9 L898.4,437.7 L887.6,435.0 L882.3,443.1 L868.8,440.4 L860.7,445.7 L847.3,453.8 L841.9,467.3 L841.9,471.3 L789.4,471.3Z M1317.0,352.0 L1317.0,200.0 L1540.0,200.0 L1540.0,340.0 L1519.0,343.0 L1511.0,346.0 L1500.0,351.0 L1487.0,349.0 L1483.0,354.0 L1473.0,360.0 L1464.0,366.0 L1455.0,370.0 L1447.0,378.0 L1442.0,386.0 L1443.2,392.3 L1439.9,393.4 L1431.2,397.8 L1422.4,410.9 L1413.7,408.7 L1404.9,415.3 L1389.6,417.5 L1388.5,395.6 L1385.3,391.2 L1380.9,395.6 L1378.7,417.5 L1370.0,426.2 L1361.2,432.8 L1355.7,426.2 L1348.1,432.8 L1339.3,439.3 L1328.4,435.0 L1317.5,432.8 L1306.5,435.0 L1295.6,437.2 L1284.7,439.3 L1273.7,437.2 L1265.0,432.8 L1258.4,428.4 L1256.2,419.7 L1260.6,415.3 L1269.4,406.5 L1280.3,400.0 L1293.4,397.8 L1302.2,404.3 L1313.1,402.2 L1319.7,413.1 L1328.4,404.3 L1335.0,393.4 L1343.7,389.0 L1332.8,382.5Z M1172.2,381.8 L1180.3,376.5 L1195.1,371.1 L1199.1,387.2 L1193.7,400.7 L1180.3,403.4 L1172.2,398.0 L1168.2,389.9Z M808.0,750.0 L816.5,753.0 L830.0,755.7 L851.5,753.0 L875.7,761.0 L875.7,780.0 L873.0,790.7 L878.4,801.5 L878.4,845.0 L840.0,845.0 L815.0,770.0Z M745.6,688.7 L756.5,686.5 L767.5,690.9 L778.4,695.3 L785.0,708.4 L771.8,710.6 L756.5,708.4 L747.8,699.6Z" fill="#4D4D4D"/>
</g>
<path d="M300.0,220.0 L810.0,220.0 L810.0,440.0 L787.6,440.0 L787.6,551.5 L767.8,551.5 L767.8,683.0 L690.0,683.0 L690.0,720.0 L300.0,720.0Z" fill="#4D4D4D"/>
<g filter="url(#rag)">
<path d="M392.3,303.8 L403.0,295.7 L416.5,285.0 L424.6,274.2 L429.9,266.1 L440.7,263.4 L462.2,266.1 L472.5,276.9 L473.0,311.9 L456.8,309.2 L440.7,313.2 L424.6,317.3 L408.4,318.6 L397.6,311.9Z" fill="#CC0000"/>
<path d="M432.6,268.8 L451.5,268.8 L467.6,278.2 L464.9,293.0 L448.8,295.7 L440.7,289.0 L431.3,279.6Z" fill="#1A71D2"/>
<path d="M411.1,303.8 L424.6,295.7 L440.7,301.1 L435.3,307.8 L419.2,309.2Z" fill="#1A71D2"/>
<path d="M462.2,354.9 L478.4,360.3 L494.5,365.7 L505.3,387.2 L532.2,400.7 L543.0,408.8 L532.2,414.1 L505.3,411.4 L483.8,403.4 L470.3,387.2 L463.6,371.1Z" fill="#1A71D2"/>
<path d="M464.9,354.9 L475.7,361.7 L478.4,376.5 L489.1,387.2 L505.3,392.6 L521.4,394.0 L529.5,400.7 L524.1,408.8 L505.3,406.1 L489.1,400.7 L478.4,392.6 L470.3,381.8 L464.9,368.4Z" fill="#CC0000"/>
<path d="M820.0,677.8 L833.1,675.6 L841.8,671.2 L854.9,669.0 L861.5,666.8 L868.1,675.6 L863.7,684.3 L854.9,682.1 L846.2,680.0 L841.8,688.7 L833.1,680.0Z" fill="#1A71D2"/>
<path d="M626.7,326.0 L624.4,330.9 L619.3,332.3 L614.9,331.0 L611.2,328.3 L611.6,323.8 L613.9,319.3 L619.2,320.2 L623.6,321.8Z" fill="#B3B3B3"/>
<path d="M636.5,322.6 L637.2,326.4 L633.3,328.1 L629.8,326.3 L627.1,324.3 L627.2,321.0 L629.2,318.1 L633.3,317.1 L635.4,320.2Z" fill="#B3B3B3"/>
<path d="M659.3,324.0 L657.5,330.8 L652.5,330.3 L649.4,329.6 L645.0,327.4 L645.3,320.7 L648.4,316.0 L652.7,316.5 L656.6,318.2Z" fill="#B3B3B3"/>
<path d="M668.5,332.3 L668.0,334.9 L663.1,335.9 L657.6,335.9 L653.9,333.7 L656.2,331.3 L658.9,329.9 L663.4,327.8 L667.0,330.2Z" fill="#B3B3B3"/>
<path d="M697.2,328.0 L695.7,330.5 L693.1,332.5 L689.6,331.4 L687.8,329.3 L686.7,326.5 L688.3,322.9 L693.3,322.5 L697.4,324.5Z" fill="#B3B3B3"/>
<path d="M712.1,353.6 L711.4,356.2 L709.0,357.8 L706.0,357.5 L704.4,355.0 L704.0,352.1 L706.9,351.3 L708.8,350.1 L711.7,350.7Z" fill="#B3B3B3"/>
<path d="M765.8,376.2 L764.5,381.5 L760.7,383.1 L757.5,381.5 L756.2,377.9 L754.4,373.6 L757.2,370.2 L760.8,368.3 L763.5,372.0Z" fill="#B3B3B3"/>
<path d="M735.6,421.1 L733.6,423.8 L730.6,426.6 L726.7,424.5 L722.7,422.9 L723.3,419.5 L726.7,417.8 L730.6,416.1 L733.3,418.7Z" fill="#B3B3B3"/>
<path d="M773.4,401.5 L773.9,403.3 L769.7,403.2 L766.2,403.6 L765.4,402.1 L764.9,400.8 L765.8,399.1 L769.8,399.7 L773.2,400.0Z" fill="#B3B3B3"/>
<path d="M679.9,367.0 L678.7,372.1 L676.1,373.7 L672.8,375.9 L672.5,369.1 L671.3,364.1 L672.8,358.1 L676.1,360.6 L679.1,361.4Z" fill="#B3B3B3"/>
<path d="M703.7,400.7 L701.5,402.2 L697.4,403.2 L693.1,402.4 L688.1,401.7 L688.1,399.7 L692.2,398.4 L697.1,398.7 L701.7,399.1Z" fill="#B3B3B3"/>
<path d="M642.0,353.6 L641.5,355.2 L640.1,356.5 L638.4,355.6 L637.3,354.4 L637.2,352.7 L638.6,351.9 L640.0,351.2 L641.6,351.9Z" fill="#B3B3B3"/>
<path d="M594.9,278.9 L592.2,282.8 L587.5,285.1 L581.6,284.7 L580.1,280.5 L578.7,276.9 L581.6,273.1 L587.5,272.4 L591.8,275.3Z" fill="#B3B3B3"/>
<path d="M606.9,274.2 L607.1,277.6 L602.7,279.3 L598.2,278.3 L596.2,275.6 L594.2,272.3 L597.6,269.3 L602.7,269.4 L606.6,271.1Z" fill="#B3B3B3"/>
<path d="M589.6,305.4 L587.9,307.4 L586.6,308.2 L584.6,309.7 L584.2,306.5 L584.3,304.4 L584.8,301.8 L586.7,301.9 L588.8,302.4Z" fill="#B3B3B3"/>
<path d="M570.5,264.8 L569.1,267.7 L565.5,269.1 L562.6,267.2 L559.7,266.1 L560.1,263.6 L562.0,261.6 L565.2,261.9 L567.6,262.8Z" fill="#B3B3B3"/>
<path d="M1184.2,446.0 L1183.5,450.6 L1179.0,451.8 L1173.8,453.3 L1172.2,448.1 L1171.0,443.5 L1173.5,438.3 L1179.2,439.3 L1184.9,440.2Z" fill="#1A71D2" stroke="#ABCF45" stroke-width="3" stroke-linejoin="round"/>
<path d="M1184.6,449.0 L1182.1,450.7 L1180.7,453.0 L1178.2,452.1 L1175.8,450.5 L1176.8,447.8 L1177.8,445.2 L1180.5,446.1 L1183.5,446.0Z" fill="#47919F"/>
<path d="M1219.0,437.0 L1222.0,436.0 L1226.0,447.0 L1227.0,455.0 L1224.0,455.0 L1222.0,446.0Z" fill="#ABCF45"/>
<path d="M1172.0,436.0 L1177.0,434.0 L1179.0,437.0 L1174.0,439.0Z" fill="#EFA700"/>
<path d="M1472.8,373.0 L1472.0,374.3 L1470.1,374.1 L1468.7,373.0 L1470.0,371.8 L1471.9,371.9Z" fill="#CC0000"/>
<path d="M1478.0,371.0 L1477.0,372.3 L1474.8,372.5 L1474.2,371.0 L1475.1,369.9 L1477.1,369.6Z" fill="#CC0000"/>
<path d="M1483.5,369.5 L1481.8,370.5 L1479.8,371.1 L1479.3,369.5 L1480.0,368.3 L1482.2,368.0Z" fill="#CC0000"/>
<path d="M1488.9,366.0 L1487.9,367.1 L1485.8,367.5 L1485.0,366.0 L1486.2,365.0 L1488.1,364.6Z" fill="#CC0000"/>
<path d="M1494.0,363.0 L1493.1,364.3 L1491.1,364.2 L1489.6,363.0 L1491.3,362.1 L1493.3,361.4Z" fill="#CC0000"/>
<path d="M1498.9,359.5 L1497.9,360.6 L1495.8,361.0 L1495.1,359.5 L1496.0,358.2 L1498.0,358.2Z" fill="#CC0000"/>
<path d="M1503.5,358.5 L1503.0,359.7 L1501.1,359.6 L1500.1,358.5 L1501.1,357.4 L1503.2,357.0Z" fill="#CC0000"/>
<path d="M1467.5,376.0 L1467.1,377.4 L1464.8,377.6 L1464.1,376.0 L1464.8,374.4 L1467.0,374.8Z" fill="#CC0000"/>
<path d="M1458.2,382.0 L1457.2,383.6 L1454.9,383.4 L1453.6,382.0 L1455.2,381.0 L1457.0,380.7Z" fill="#CC0000"/>
<path d="M1192.2,410.0 L1190.8,411.7 L1189.1,411.9 L1188.6,410.0 L1188.9,407.5 L1190.7,408.4Z" fill="#CC0000"/>
<path d="M1188.6,416.0 L1188.0,418.1 L1186.3,417.4 L1184.7,416.0 L1185.9,413.7 L1188.1,413.5Z" fill="#CC0000"/>
<path d="M1185.4,421.0 L1184.9,423.1 L1182.9,423.5 L1182.4,421.0 L1183.1,419.0 L1184.8,419.2Z" fill="#CC0000"/>
</g>
<path d="M308.8,247.3 L351.9,233.8 L378.8,233.8 L378.8,303.8 L370.7,328.0 L370.7,365.7 L360.0,420.9 L316.9,420.9 L312.9,398.0 L325.0,322.6 L323.6,290.3Z" fill="#000" filter="url(#coast)"/>
<path d="M378.8,233.8 L475.7,233.8 L475.7,263.4 L429.9,266.1 L416.5,285.0 L403.0,295.7 L392.3,303.8 L378.8,303.8Z" fill="#000" filter="url(#casc)"/>
<path d="M351.9,322.6 L384.2,324.0 L411.1,318.6 L440.7,314.6 L473.8,313.2 L482.4,330.7 L475.7,344.2 L462.2,354.9 L440.7,354.9 L419.2,354.9 L397.6,360.3 L378.8,349.6 L370.7,365.7 L370.7,328.0Z" fill="#000" filter="url(#casc)"/>
<path d="M370.7,365.7 L378.8,349.6 L397.6,360.3 L419.2,354.9 L467.6,354.9 L473.8,376.5 L473.8,418.7 L360.0,418.7Z" fill="#000" filter="url(#dglg)"/>
<path d="M475.7,236.5 L493.2,236.5 L497.2,263.4 L513.4,287.7 L518.7,309.2 L499.9,322.6 L483.8,320.0 L475.7,311.9Z" fill="#000" filter="url(#lgred)"/>
<path d="M524.1,389.9 L559.1,387.2 L586.0,403.4 L586.0,418.7 L478.4,418.7 L483.8,403.4 L505.3,411.4 L532.2,415.5Z" fill="#000" filter="url(#lgdg)"/>
<path d="M494.5,239.2 L513.4,237.9 L532.2,255.4 L538.9,268.8 L532.2,283.6 L518.7,285.0 L505.3,268.8Z" fill="#000" filter="url(#dglg)"/>
<path d="M316.9,417.7 L409.8,417.7 L409.8,498.4 L440.7,528.0 L462.2,565.7 L478.4,603.4 L494.5,624.9 L494.5,657.2 L462.2,657.2 L392.3,603.4 L365.3,549.6 L327.7,495.7 L315.6,458.1Z" fill="#000" filter="url(#coast)"/>
<path d="M521.4,600.7 L521.4,603.4 L494.5,624.9 L478.4,603.4 L462.2,565.7 L440.7,528.0 L409.8,498.4Z" fill="#000" filter="url(#dgs)"/>
<path d="M453.8,560.0 L522.4,600.4 L527.8,613.8 L531.9,623.2 L525.1,631.3 L519.8,667.6 L494.2,667.6 L491.5,640.7 L495.5,613.8 L478.0,586.9Z" fill="#000" filter="url(#dgs)"/>
<path d="M411.1,421.7 L533.5,421.7 L533.5,528.0 L494.5,520.0 L451.5,506.5 L411.1,487.7Z" fill="#000" filter="url(#basin)"/>
<path d="M411.1,482.3 L451.5,501.1 L494.5,514.6 L533.5,520.0 L533.5,549.6 L505.3,554.9 L478.4,544.2 L440.7,525.3 L411.1,501.1Z" fill="#000" filter="url(#redblue)"/>
<path d="M440.7,525.3 L478.4,544.2 L505.3,554.9 L533.5,549.6 L533.5,573.8 L521.4,576.5 L521.4,600.7Z" fill="#000" filter="url(#dgs)"/>
<path d="M536.5,421.2 L597.7,421.2 L597.7,447.1 L588.3,461.2 L590.7,477.7 L555.3,498.9 L581.2,503.6 L590.7,494.2 L641.3,477.7 L641.3,551.9 L536.5,551.9Z" fill="#000" filter="url(#swirl)"/>
<path d="M590.7,494.2 L641.3,477.7 L641.3,551.9 L578.9,551.9 L583.6,522.5Z" fill="#000" filter="url(#swirl2)"/>
<path d="M642.5,454.2 L661.3,456.5 L673.1,477.7 L670.7,503.6 L656.6,513.0 L642.5,510.7Z" fill="#000" filter="url(#lgred)"/>
<path d="M642.5,513.0 L661.3,517.8 L673.1,531.9 L670.7,550.7 L642.5,550.7Z" fill="#000" filter="url(#lgdg2)"/>
<path d="M534.0,550.6 L640.9,550.6 L640.9,697.2 L623.4,698.6 L604.5,667.6 L588.4,640.7 L566.8,627.3 L545.3,608.4 L531.9,586.9Z" fill="#000" filter="url(#swirl2)"/>
<path d="M566.8,627.3 L588.4,640.7 L604.5,667.6 L623.4,698.6 L596.4,698.6 L585.7,686.5 L561.5,654.2Z" fill="#000" filter="url(#dgs)"/>
<path d="M641.0,551.5 L767.8,551.5 L767.8,683.0 L692.0,686.0 L659.0,688.6 L659.0,700.0 L641.0,700.0Z" fill="#000" filter="url(#nm)"/>
<path d="M641.0,551.5 L767.8,551.5 L767.8,575.0 L740.0,590.0 L700.0,585.0 L660.0,600.0 L641.0,600.0Z" fill="#000" filter="url(#dglg3)"/>
<path d="M692.0,686.0 L745.0,684.0 L740.0,700.0 L760.0,720.0 L790.0,742.0 L773.0,745.0 L770.0,756.0 L762.0,762.0 L738.0,745.0 L725.0,718.0Z" fill="#000" filter="url(#nm)"/>
<path d="M805.6,709.4 L823.1,704.0 L840.5,705.3 L858.0,686.5 L870.2,690.5 L875.5,710.7 L872.8,724.2 L875.5,739.0 L860.7,749.7 L844.6,747.0 L828.4,749.7 L816.3,740.8 L812.3,724.2Z" fill="#000" filter="url(#hill)"/>
<g filter="url(#rag)">
<path d="M349.7,454.0 L365.9,451.3 L372.1,468.8 L370.2,487.7 L378.8,503.8 L370.7,507.8 L358.6,489.0 L351.4,470.2Z" fill="#B3B3B3"/>
<path d="M396.3,540.1 L408.4,541.5 L420.5,552.2 L431.3,565.7 L440.7,587.2 L442.0,600.7 L434.0,608.2 L421.9,602.0 L410.6,587.2 L402.5,571.1 L397.1,554.9Z" fill="#B3B3B3"/>
<path d="M368.0,510.5 L397.6,509.2 L400.3,526.7 L384.2,530.7 L370.7,522.6Z" fill="#1A71D2"/>
<path d="M359.4,477.4 L378.8,479.6 L381.5,503.8 L368.0,506.5 L360.5,495.7Z" fill="#CC0000"/>
<path d="M370.7,431.1 L392.3,428.5 L397.6,441.9 L381.5,447.3 L370.7,441.9Z" fill="#1A71D2"/>
<path d="M538.8,447.1 L550.6,440.0 L567.1,437.7 L578.9,447.1 L576.5,458.9 L564.7,454.2 L553.0,461.2 L540.0,460.1Z" fill="#1A71D2"/>
<path d="M541.2,440.0 L553.0,430.6 L567.1,427.1 L578.9,430.6 L583.6,442.4 L576.5,440.0 L567.1,435.3 L550.6,437.7 L542.4,445.9Z" fill="#CC0000"/>
<path d="M597.7,422.4 L597.7,447.1 L637.8,448.3 L638.9,477.7 L618.9,480.1 L600.1,468.3 L590.7,458.9Z" fill="#4D4D4D"/>
<path d="M557.7,482.4 L578.9,481.3 L583.6,494.2 L567.1,501.3 L555.3,494.2Z" fill="#4D4D4D"/>
<path d="M720.2,451.8 L727.3,450.6 L732.0,468.3 L742.6,480.1 L739.0,490.7 L727.3,489.5 L720.2,477.7 L717.4,465.9Z" fill="#B3B3B3"/>
<path d="M721.4,470.7 L727.3,473.0 L734.3,477.7 L730.8,483.6 L723.7,480.1Z" fill="#CC0000"/>
<path d="M727.3,501.3 L741.4,500.1 L743.7,517.8 L764.9,520.1 L776.7,510.7 L775.5,480.1 L786.1,477.7 L788.5,550.7 L727.3,550.7 L722.5,531.9 L732.0,527.2 L720.2,513.0Z" fill="#B3B3B3"/>
<path d="M679.6,590.3 L690.6,583.7 L694.9,596.9 L692.8,612.2 L686.2,627.5 L688.4,645.0 L681.8,662.5 L676.4,671.2 L673.1,658.1 L677.4,636.2 L676.4,612.2Z" fill="#CC0000" stroke="#1A71D2" stroke-width="3.5" stroke-linejoin="round"/>
<path d="M716.8,590.3 L729.9,585.9 L736.5,596.9 L729.9,612.2 L725.6,627.5 L729.9,645.0 L736.5,662.5 L738.7,675.6 L729.9,677.8 L723.4,662.5 L716.8,642.8 L714.6,623.1 L712.4,605.6Z" fill="#CC0000" stroke="#1A71D2" stroke-width="3.5" stroke-linejoin="round"/>
<path d="M703.7,596.9 L710.2,594.7 L712.4,612.2 L708.1,631.8 L712.4,653.7 L705.9,662.5 L701.5,642.8 L700.4,616.5Z" fill="#CC0000" stroke="#1A71D2" stroke-width="3.5" stroke-linejoin="round"/>
<path d="M751.8,655.9 L766.0,649.3 L766.0,671.2 L756.2,673.4Z" fill="#CC0000" stroke="#1A71D2" stroke-width="3.5" stroke-linejoin="round"/>
<path d="M585.6,564.1 L594.3,559.7 L607.5,572.8 L618.4,590.3 L629.3,601.2 L634.8,612.2 L627.2,614.3 L616.2,607.8 L607.5,596.9 L598.7,585.9 L590.0,575.0Z" fill="#CC0000" stroke="#1A71D2" stroke-width="3.5" stroke-linejoin="round"/>
<path d="M552.8,579.4 L563.7,577.2 L570.3,588.1 L565.9,601.2 L557.2,603.4 L550.6,592.5Z" fill="#CC0000" stroke="#1A71D2" stroke-width="3.5" stroke-linejoin="round"/>
<path d="M646.8,557.5 L660.0,555.3 L664.3,566.2 L655.6,575.0 L647.9,570.6Z" fill="#CC0000" stroke="#1A71D2" stroke-width="3.5" stroke-linejoin="round"/>
<path d="M738.7,612.2 L751.8,610.0 L764.9,614.3 L764.9,645.0 L758.4,653.7 L749.6,649.3 L743.0,636.2 L737.6,623.1Z" fill="#1A71D2"/>
<path d="M806.9,710.7 L823.1,705.3 L839.2,706.7 L833.8,718.8 L817.7,721.5Z" fill="#1A71D2" stroke="#7AAF75" stroke-width="2" stroke-linejoin="round"/>
</g>
</g>
<path d="M1247.0,856.0 L1251.0,855.5 L1251.5,858.0 L1247.5,858.5Z" fill="#47919F"/>
<path d="M1243.0,861.0 L1247.0,860.5 L1247.5,863.0 L1243.5,863.5Z" fill="#1A71D2"/>
<path d="M1238.0,865.0 L1242.0,864.5 L1242.5,867.0 L1238.5,867.5Z" fill="#1A71D2"/>
<path d="M1233.0,868.0 L1237.0,867.5 L1237.5,870.0 L1233.5,870.5Z" fill="#1A71D2"/>
<path d="M1227.0,871.0 L1231.0,870.5 L1231.5,873.0 L1227.5,873.5Z" fill="#47919F"/>
<path d="M1221.0,873.0 L1225.0,872.5 L1225.5,875.0 L1221.5,875.5Z" fill="#1A71D2"/>
<path d="M1214.0,875.0 L1218.0,874.5 L1218.5,877.0 L1214.5,877.5Z" fill="#1A71D2"/>
<path d="M1207.0,876.0 L1211.0,875.5 L1211.5,878.0 L1207.5,878.5Z" fill="#1A71D2"/>
<path d="M1201.0,877.0 L1205.0,876.5 L1205.5,879.0 L1201.5,879.5Z" fill="#47919F"/>
<path d="M1194.0,878.0 L1198.0,877.5 L1198.5,880.0 L1194.5,880.5Z" fill="#1A71D2"/>
<path d="M1188.0,879.0 L1192.0,878.5 L1192.5,881.0 L1188.5,881.5Z" fill="#1A71D2"/>
<path d="M401.0,628.0 L410.0,627.0 L416.0,629.0 L409.0,631.0Z" fill="#1A71D2"/>
<path d="M410.0,626.0 L422.0,626.5 L423.0,629.0 L412.0,629.0Z" fill="#CC0000"/>
<path d="M408.0,650.0 L412.0,649.0 L413.0,653.0 L409.0,654.0Z" fill="#CC0000"/>
<path d="M428.0,645.0 L433.0,648.0 L434.0,653.0 L430.0,651.0Z" fill="#1A71D2"/>
<path d="M428.0,656.0 L434.0,661.0 L433.0,663.0 L428.0,659.0Z" fill="#1A71D2"/>
<path d="M1059.0,266.0 L1066.0,260.0 L1075.0,257.0 L1074.0,261.0 L1066.0,266.0Z" fill="#4D4D4D"/>
<path d="M1447.0,438.0 L1453.0,437.5 L1454.0,440.0 L1448.0,441.0Z" fill="#CC0000"/>
<path d="M1459.0,438.0 L1465.0,438.0 L1465.0,441.0 L1460.0,441.0Z" fill="#CC0000"/>
<g fill="none" stroke="#000" stroke-width="3.6" stroke-linejoin="round" stroke-linecap="round">
<path d="M326.0,308.0 L338.0,309.5 L348.0,310.5 L352.0,322.6 L384.0,324.0 L411.0,318.6 L438.0,314.6 L473.8,313.0 M473.8,235.0 L473.8,313.0 M473.8,313.0 L483.8,320.0 L482.4,330.7 L475.7,344.0 L469.0,355.0 L475.7,361.7 L473.8,376.5 L473.8,419.5 M321.0,419.5 L599.5,419.5 M409.8,419.5 L409.8,498.4 L522.4,600.7 M535.0,419.5 L535.0,573.0 L533.5,574.5 L529.5,577.8 L520.0,576.5 L521.0,590.0 L522.4,600.7 M522.4,600.7 L527.8,613.8 L531.9,623.2 L525.0,631.0 L523.8,643.4 L519.7,648.8 L525.0,659.6 L519.7,667.6 M493.7,235.0 L497.0,263.0 L505.0,276.0 L513.0,288.0 L528.0,298.0 L527.0,323.0 L540.0,323.0 L550.0,344.0 L559.0,355.0 L572.0,352.0 L586.0,350.0 L598.0,347.0 L599.5,350.0 M599.5,340.7 L599.5,445.6 M599.5,340.7 L745.9,340.7 M599.5,445.6 L787.6,445.6 M641.0,445.6 L641.0,551.5 M787.6,445.6 L787.6,551.5 M535.0,551.5 L946.0,551.5 M641.0,551.5 L641.0,700.0 M745.9,235.0 L745.9,445.6 M745.9,315.9 L904.7,315.9 M745.9,393.3 L863.0,393.3 L872.0,399.0 L881.0,399.0 L890.0,397.5 L902.0,402.0 M787.6,472.1 L927.5,472.1 M767.8,551.5 L767.8,683.0 M692.0,683.0 L767.8,683.0 M767.8,564.4 L831.2,564.4 L831.2,615.5 M831.2,615.5 L838.7,620.9 L846.8,619.5 L854.9,626.0 L865.7,627.6 L875.0,630.0 L879.0,635.7 L889.9,634.0 L892.6,638.0 L906.0,637.0 L919.5,634.0 L930.0,633.0 L940.8,635.7 L948.8,638.4 L957.0,643.0 M889.9,235.0 L892.6,255.0 L899.0,277.0 L902.0,301.0 L904.7,316.0 L898.0,324.0 L907.4,332.0 L907.4,379.5 M907.4,379.5 L903.0,382.0 L906.0,392.6 L902.0,402.0 L908.7,414.0 L914.0,425.8 L919.5,444.6 L922.0,455.0 L927.5,466.0 L930.0,472.0 L938.0,479.6 L942.0,485.0 M907.4,379.5 L1014.8,379.5 M922.0,456.8 L1008.0,456.8 L1013.4,462.0 M942.0,485.0 L945.5,490.0 L945.5,564.4 M945.5,564.4 L948.8,638.4 L957.0,643.0 L957.5,683.0 L961.8,693.8 L965.8,707.0 L964.5,723.4 L961.8,739.6 M945.5,564.4 L1037.6,564.4 L1033.6,576.5 L1045.7,576.5 M957.5,656.6 L1020.0,656.6 M994.6,295.7 L993.2,314.6 L981.0,322.6 L985.0,346.9 L1002.7,357.6 L1016.0,373.8 L1014.8,379.5 L1020.0,395.0 L1032.3,406.6 L1039.0,419.5 L1036.3,425.8 L1021.5,433.8 L1020.0,444.6 L1024.0,450.0 L1013.4,461.0 L1010.7,474.0 L1021.5,487.7 L1028.0,501.0 L1040.0,503.8 L1035.0,517.0 L1045.7,528.0 L1052.4,538.8 L1056.5,549.6 L1061.9,553.6 L1055.0,560.0 L1052.4,565.0 L1048.4,576.5 L1043.0,590.0 L1037.6,603.4 L1029.6,616.8 L1021.5,630.0 L1016.0,643.7 L1018.8,655.0 L1020.0,656.6 L1022.9,675.0 L1014.8,685.7 L1009.4,699.0 L1007.5,709.4 M1007.5,709.4 L1048.4,709.4 L1048.4,720.7 L1049.8,731.5 M1032.3,406.6 L1088.8,406.6 M1037.6,298.4 L1059.0,306.5 L1080.7,313.0 L1088.8,322.6 L1091.5,336.0 L1091.5,341.5 M1094.0,424.5 L1094.0,495.7 L1091.5,506.5 L1088.8,520.0 L1084.7,528.0 M1061.9,553.6 L1064.6,546.9 L1075.3,544.0 L1080.7,536.0 L1084.7,528.0 L1096.8,529.4 L1105.0,525.0 L1115.7,526.7 L1121.0,521.0 L1131.8,522.6 L1137.0,509.0 L1145.3,505.0 L1152.0,498.4 L1161.4,501.0 L1172.0,506.5 L1185.7,505.0 L1196.4,507.8 L1201.8,505.0 L1207.0,499.0 L1212.6,493.0 L1226.0,485.0 L1234.0,477.0 L1236.8,466.0 L1239.5,455.0 L1242.0,450.0 M1107.6,425.5 L1181.6,425.5 M1152.0,425.5 L1152.0,498.4 M1242.0,420.7 L1242.0,480.0 L1344.0,480.0 M1052.4,563.0 L1083.4,563.0 L1083.4,561.7 L1218.0,561.7 L1250.0,562.5 L1341.5,562.5 M1037.6,604.0 L1187.0,604.0 M1083.4,604.0 L1079.4,640.0 L1075.3,710.0 L1076.7,727.5 M1134.5,604.0 L1140.0,640.0 L1146.7,675.0 L1144.0,693.8 L1148.0,712.7 L1149.4,716.7 M1076.0,709.4 L1091.5,709.4 L1094.0,720.7 L1092.8,728.8 M1091.5,709.4 L1148.0,709.4 M1149.4,716.7 L1207.0,722.0 L1207.0,726.0 L1211.0,718.0 L1222.0,717.0 M1218.0,561.7 L1212.0,568.0 L1199.0,576.5 L1190.0,580.0 L1180.0,587.0 L1166.8,595.0 L1161.4,604.0 M1183.0,611.5 L1188.0,604.0 L1199.0,600.7 L1231.0,600.7 L1237.9,608.8 L1260.7,608.8 L1283.6,634.0 M1183.0,604.0 L1183.0,611.5 L1193.5,622.0 L1204.5,640.0 L1215.0,653.5 L1226.0,669.6 L1231.4,680.0 L1234.0,677.7 M1201.8,505.0 L1196.4,520.0 L1204.5,533.4 L1212.6,541.5 L1199.0,549.6 L1188.3,557.6 L1183.0,561.7 M1212.6,541.5 L1220.4,545.5 L1233.8,541.5 L1247.3,538.8 L1252.7,528.0 L1263.4,522.6 L1268.8,511.9 L1276.9,509.0 L1287.6,501.0 L1298.4,493.0 M1263.4,480.0 L1263.4,491.7 L1272.8,486.0 L1282.3,482.0 L1287.6,483.6 L1298.4,493.0 M1298.4,493.0 L1306.5,498.4 L1314.6,506.5 L1311.9,514.6 L1320.0,518.6 L1329.4,522.6 M1344.0,480.0 L1343.6,514.6 L1359.0,514.6 M1257.0,419.5 L1351.0,419.5 L1359.0,431.0 L1356.0,438.0 L1367.0,439.5 L1359.0,447.6 L1353.8,455.7 L1361.9,463.7 L1363.0,470.0 L1357.6,473.0 L1347.0,480.0 M1367.0,439.5 L1379.0,448.0 M1391.5,340.8 L1390.0,364.0 L1394.0,380.0 L1395.5,400.3 L1391.5,420.7 L1390.0,439.5 L1380.7,448.0 M1430.5,340.8 L1427.8,353.4 L1421.0,358.8 L1415.7,377.6 L1410.3,400.3 M1442.6,331.9 L1444.0,364.0 L1445.3,385.7 L1448.0,393.8 M1395.5,400.3 L1434.5,400.3 L1442.6,396.5 L1446.6,400.5 M1391.5,420.7 L1434.5,419.0 L1430.5,423.4 L1431.8,434.0 L1437.2,439.5 M1425.0,420.0 L1425.0,442.0"/>
<path d="M351.0,237.0 L355.0,248.0 L359.0,258.0 L360.0,268.0 L357.0,277.0 L353.0,286.0 L350.0,283.0 L352.0,272.0 L350.0,262.0 L348.0,252.0 L350.0,243.0 M347.0,243.0 L352.0,245.0 M348.0,250.0 L355.0,254.0 M352.0,262.0 L357.0,266.0 M351.0,276.0 L355.0,280.0 M357.0,521.0 L360.0,525.0 L362.0,530.0 L364.0,536.0 L367.0,541.0 M359.0,523.0 L364.0,521.0 L366.0,524.0 M358.0,526.0 L361.0,533.0 L363.0,538.0 M1334.0,483.0 L1331.0,490.0 L1328.0,498.0 L1326.0,506.0 L1327.0,515.0 L1329.0,524.0 L1331.0,533.0 L1333.0,541.0 L1336.0,549.0 M1336.0,485.0 L1335.0,494.0 L1336.0,503.0 L1338.8,512.0 L1340.0,521.0 L1341.5,530.7 L1341.5,546.0 M1330.0,488.0 L1333.0,496.0 L1332.0,505.0 L1334.0,514.0 L1336.0,522.0 L1337.0,532.0 L1338.0,542.0 M1322.0,496.0 L1328.0,500.0 M1320.0,506.0 L1327.0,509.0 M1316.0,514.0 L1324.0,520.0 L1330.0,523.0 M1316.0,527.0 L1324.0,531.0 L1331.0,535.0 M1317.0,540.0 L1325.0,544.0 L1332.0,547.0 M1320.0,548.0 L1334.0,553.0 M1338.0,500.0 L1342.0,505.0 M1340.0,512.0 L1345.0,518.0 M1380.0,450.0 L1392.0,447.5 L1405.0,446.0 L1424.0,441.5 M1323.0,568.0 L1340.0,571.0 M1323.0,576.0 L1332.0,582.0 L1341.0,590.0 M1316.0,592.0 L1328.0,598.0 L1332.0,608.0 M1326.0,570.0 L1330.0,584.0 M1195.0,788.0 L1200.0,796.0 M1204.0,816.0 L1208.0,820.0 M1458.0,437.0 L1463.0,438.0 M1447.0,438.0 L1452.0,440.0 M1135.0,337.0 L1136.0,345.0 M1036.0,729.0 L1044.0,733.0 L1050.0,736.0 M1036.0,726.0 L1046.0,727.0 M921.0,756.0 L930.0,750.0 M905.0,768.0 L914.0,764.0 M886.0,792.0 L890.0,786.0 M1083.0,716.0 L1084.0,727.0" stroke-width="4"/>
<path d="M933.0,235.5 L933.0,225.8 L942.0,225.8 L944.8,240.6 L962.3,246.0 L973.0,244.6 L987.9,248.6 L994.6,255.4 L1006.7,254.0 L1013.4,258.0 L1024.2,255.4 L1029.6,259.4 L1053.8,262.0 L1032.3,272.9 L1018.8,281.0 L1008.0,289.0 L994.6,295.7 L1008.0,293.0 L1022.8,287.7 L1024.2,295.7 L1037.6,295.7 L1051.0,291.7 L1064.6,285.0 L1076.7,278.0 L1090.0,277.0 L1086.0,282.0 L1076.7,287.7 L1075.3,294.4 L1084.7,290.4 L1096.8,298.4 L1113.0,301.0 L1123.8,297.0 L1148.0,294.4 L1150.7,301.0 L1160.0,302.5 L1166.8,310.5 L1180.0,312.0 L1180.0,316.0 L1166.8,313.0 L1153.4,316.0 L1140.0,313.0 L1123.8,316.0 L1115.7,318.6 L1105.0,320.0 L1102.0,328.0 L1091.5,341.5 L1084.0,352.0 L1090.0,348.0 L1100.0,335.0 L1110.0,322.6 L1099.5,344.0 L1091.5,365.7 L1088.8,381.9 L1088.8,403.4 L1091.5,419.5 L1098.0,429.0 L1107.6,427.6 L1118.4,416.8 L1122.4,400.7 L1118.4,381.9 L1117.0,365.7 L1121.0,349.6 L1129.0,341.5 L1140.0,336.0 L1145.3,328.0 L1149.3,321.3 L1153.4,317.3 L1166.8,322.6 L1180.0,330.7 L1184.3,340.0 L1181.6,352.0 L1177.6,363.0 L1170.8,369.7 L1174.9,375.0 L1185.6,368.4 L1195.0,365.7 L1199.0,376.5 L1200.4,392.6 L1196.4,403.4 L1189.7,408.8 L1185.6,416.8 L1181.6,425.0 L1191.0,431.6 L1199.0,435.7 L1212.6,433.0 L1226.0,426.0 L1242.0,420.7 L1257.0,415.3 L1270.4,404.5 L1274.4,393.8 L1273.0,387.0 L1281.0,384.4 L1300.0,385.7 L1316.0,384.4 L1328.0,379.0 L1332.0,372.0 L1329.6,364.0 L1337.6,356.0 L1348.4,346.7 L1360.5,340.8 L1430.5,340.8 L1435.9,333.0 L1442.6,331.9 L1450.7,327.8 L1458.7,307.7 L1466.8,291.5 L1478.9,275.4 L1484.3,276.7 L1488.3,282.0 L1501.8,278.0 L1511.2,286.0 L1512.0,323.8 L1519.3,327.8 L1520.6,335.9 L1527.4,342.6 L1522.0,349.4 L1512.6,350.7 L1501.8,356.0 L1488.3,354.7 L1485.7,361.5 L1474.9,366.9 L1466.8,373.6 L1458.7,375.0 L1453.4,385.7 L1448.0,393.8 L1445.3,401.8 L1449.3,407.0 L1442.6,412.6 L1448.0,420.7 L1453.4,428.8 L1458.7,431.4 L1462.0,426.0 L1460.0,418.0 L1464.0,419.3 L1465.5,428.8 L1464.0,434.0 L1453.4,435.5 L1445.3,434.0 L1437.2,439.5 L1430.5,440.9 L1424.0,442.0 L1423.8,446.0 L1405.0,453.0 L1391.5,457.0 L1379.0,452.0 L1380.5,463.4 L1376.4,479.6 L1368.4,493.0 L1361.0,501.0 L1355.0,488.0 L1347.0,481.0 L1352.0,493.0 L1357.6,501.0 L1359.0,514.6 L1355.0,525.0 L1346.8,533.4 L1341.5,546.9 L1338.8,552.0 L1341.5,562.5 L1344.0,573.8 L1348.0,587.0 L1346.8,598.0 L1338.8,603.4 L1330.7,611.5 L1320.0,614.0 L1309.0,616.8 L1301.0,627.6 L1293.0,633.0 L1282.3,635.7 L1277.0,640.0 L1269.0,650.8 L1255.7,661.5 L1242.0,669.6 L1234.0,677.7 L1228.7,688.4 L1224.7,702.0 L1222.0,718.0 L1226.0,731.5 L1231.4,753.0 L1238.0,771.9 L1243.5,790.7 L1249.0,812.0 L1252.4,828.4 L1249.0,852.6 L1242.0,862.0 L1231.4,863.4 L1228.7,858.0 L1218.0,844.5 L1212.6,828.4 L1205.9,817.6 L1200.5,806.8 L1199.0,790.7 L1195.0,785.0 L1195.0,769.0 L1188.4,755.7 L1177.6,743.6 L1169.5,734.0 L1158.8,735.5 L1150.7,742.0 L1140.0,743.6 L1137.0,738.0 L1129.0,730.0 L1121.0,724.8 L1107.6,726.0 L1092.8,728.8 L1087.5,726.0 L1083.4,715.0 L1080.7,726.0 L1076.7,727.5 L1062.0,726.0 L1049.8,731.5 L1044.0,731.0 L1051.0,737.0 L1057.9,742.0 L1051.0,750.0 L1057.0,763.0 L1062.0,759.0 L1053.8,758.4 L1043.0,761.0 L1035.0,755.7 L1027.0,758.4 L1016.0,755.7 L1010.8,747.6 L999.5,741.0 L986.0,746.0 L975.0,742.0 L961.8,739.6 L953.7,742.0 L943.0,745.0 L932.0,755.7 L918.7,766.5 L905.0,774.6 L894.5,785.0 L883.8,793.4 L883.8,801.5 L886.4,815.0 L889.0,828.4 L891.8,840.5 L886.4,843.0 L875.7,840.5 L862.0,836.5 L848.8,828.4 L843.4,815.0 L838.0,801.5 L827.0,782.6 L819.0,766.5 L808.4,750.0 L797.6,742.0 L781.5,741.0 L773.4,745.0 L770.7,755.7 L762.7,762.4 L751.9,755.7 L738.4,745.0 L733.0,734.0 L725.0,718.0 L711.5,707.0 L698.0,696.5 L692.0,686.0 L659.0,688.6 L659.0,700.0 L596.4,700.0 L519.7,669.0 L519.7,664.0 L471.3,667.6 L466.0,654.0 L456.5,640.7 L446.0,638.0 L436.7,630.0 L424.6,623.0 L411.0,618.5 L397.6,616.8 L396.3,606.0 L392.3,595.0 L381.5,581.9 L370.7,565.7 L370.7,555.0 L361.0,546.9 L360.0,536.0 L356.0,526.0 L347.9,522.6 L339.8,509.0 L330.4,493.0 L325.0,474.0 L318.3,458.0 L323.6,436.5 L321.0,419.5 L318.0,408.8 L314.0,398.0 L319.6,376.5 L323.6,349.5 L326.0,322.6 L326.0,308.0 L325.0,290.0 L322.0,280.0 L319.6,268.8 L310.0,258.0 L311.5,251.0 L330.0,255.0 L337.0,256.0 L346.0,256.0 L349.0,244.0 L352.0,235.0Z"/>
<path d="M345.2,241.9 L350.0,240.0 L354.6,240.6 L358.6,250.0 L362.7,260.7 L364.0,271.5 L361.3,282.3 L354.6,289.0 L347.9,286.3 L345.2,278.2 L350.5,271.5 L352.5,262.0 L348.5,255.4 L343.8,248.6Z M357.0,520.5 L362.0,521.0 L366.0,525.0 L364.0,529.0 L366.0,534.0 L369.0,540.0 L366.0,541.5 L362.0,536.0 L359.0,529.0 L356.0,524.0Z M1192.5,786.0 L1197.0,785.5 L1201.0,790.0 L1202.0,797.0 L1198.0,798.0 L1195.0,793.0Z M1203.0,814.0 L1208.0,815.0 L1210.0,820.0 L1206.0,822.0 L1203.0,818.0Z M1336.0,569.0 L1341.0,572.0 L1343.0,580.0 L1345.0,590.0 L1342.0,596.0 L1339.0,588.0 L1338.0,580.0 L1334.0,574.0Z M1322.0,594.0 L1328.0,596.0 L1333.0,601.0 L1331.0,608.0 L1326.0,605.0 L1321.0,600.0Z M1034.0,725.0 L1042.0,724.0 L1049.0,728.0 L1050.0,734.0 L1043.0,735.0 L1036.0,731.0Z M935.0,747.0 L941.0,744.0 L944.0,748.0 L939.0,753.0 L934.0,752.0Z M908.0,765.0 L915.0,761.0 L918.0,765.0 L911.0,770.0Z M884.0,789.0 L889.0,785.0 L892.0,789.0 L887.0,795.0Z M1081.0,714.0 L1085.0,714.0 L1086.0,726.0 L1082.0,727.0Z M1133.5,336.0 L1137.5,336.0 L1138.0,346.0 L1134.0,346.0Z M1458.0,417.0 L1462.0,416.5 L1466.0,420.0 L1467.0,428.0 L1464.0,431.0 L1463.0,424.0 L1461.0,420.0Z" fill="#000" stroke-width="1.5"/>
</g>
</svg></body></html>
